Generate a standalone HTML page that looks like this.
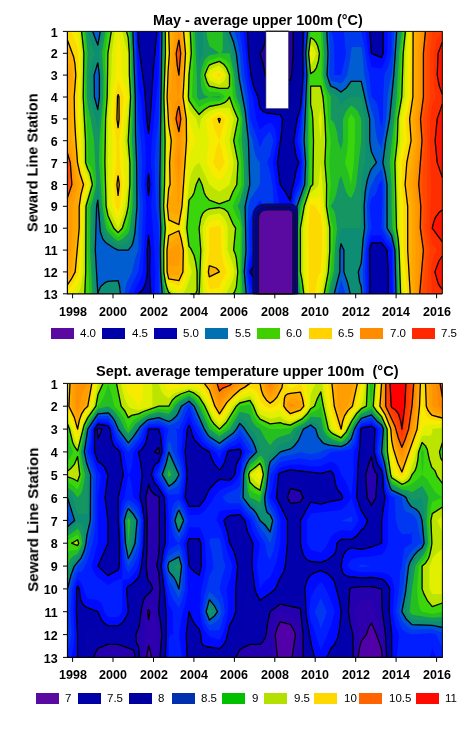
<!DOCTYPE html>
<html><head><meta charset="utf-8"><style>
html,body{margin:0;padding:0;background:#fff;}
div{-webkit-font-smoothing:antialiased;will-change:transform;}
body{width:475px;height:739px;position:relative;overflow:hidden;font-family:"Liberation Sans",sans-serif;}
svg{position:absolute;left:0;top:0;}
.t{position:absolute;font-weight:bold;font-size:14.4px;white-space:pre;line-height:1;}
.yl{position:absolute;left:20px;width:37.6px;text-align:right;font-weight:bold;font-size:12.5px;line-height:15px;}
.xl{position:absolute;width:40px;text-align:center;font-weight:bold;font-size:12.5px;line-height:15px;}
.sw{position:absolute;width:23.2px;height:11px;}
.ll{position:absolute;font-size:11.5px;line-height:13px;white-space:pre;}
.p2 .yl{}
</style></head><body>
<svg width="475" height="739" viewBox="0 0 475 739">
<g><rect x="67.4" y="31.4" width="374.90" height="262.40" fill="#2400a0"/>
<path fill="#0000a2" d="M69.1 31.4 266.7 31.4 265.7 38.7 264 46 262.4 49.6 259.9 53.3 263.3 64.2 265 75.1 270 82.4 276.8 78.9 280.2 75.1 285.2 77.1 290.3 80.6 291.6 75.1 293.2 53.3 293.2 31.4 442.3 31.4 442.3 293.8 67.4 293.8 67.4 31.4 69.1 31.4Z"/>
<path fill="#0000a4" d="M69.1 31.4 263.3 31.4 258.7 46 257.1 53.3 259.9 75.1 270 89.7 280.2 90.8 288.6 100.4 290.3 103.2 294.4 86.1 297.9 75.1 300.4 53.3 300.4 31.4 442.3 31.4 442.3 293.8 67.4 293.8 67.4 31.4 69.1 31.4Z"/>
<path fill="#0000a8" d="M69.1 31.4 259.9 31.4 258 35 256.5 39.5 254.3 53.3 256.9 75.1 258.2 79.1 259.9 83.5 270 97 280.2 101.1 283.6 104.3 287.9 111.6 290.3 118.9 294 104.3 300.4 83.3 301 75.1 301.5 31.4 442.3 31.4 442.3 293.8 67.4 293.8 67.4 31.4 69.1 31.4Z"/>
<path fill="#0000aa" d="M69.1 31.4 148.5 31.4 148.5 53.3 148.5 31.4 252.7 31.4 251.5 53.3 254 75.1 254.9 78.8 257.3 86.1 259.9 92 263.7 97 266.7 102.1 270 105.4 280.2 107.9 282.9 111.6 285.2 116 286.4 118.9 288.1 133.4 290.3 140.7 290.3 162.6 290.3 140.7 292.6 126.2 294.6 115.2 300.4 97 302 75.1 302.5 31.4 442.3 31.4 442.3 293.8 290.3 293.8 290.3 273.8 288.6 271.9 290.3 268.3 290.3 231.8 288.6 230.6 286.9 231.8 283.6 231.8 281.9 230.9 280.2 231.8 278.5 230.9 276.8 231.8 270 231.8 268.4 231.2 266.7 231.8 259.9 231.8 259.9 268.3 261.6 269.5 263.3 271.9 261.6 274.4 259.9 273.8 259.9 293.8 67.4 293.8 67.4 31.4 69.1 31.4ZM261.6 235.5 263.3 239.1 261.6 242.8 259.9 239.1 261.6 235.5ZM271.7 235.5 273.4 239.1 271.7 242.8 270 239.1 271.7 235.5ZM263.3 239.1 265 242.8 263.3 244.6 261.6 242.8 263.3 239.1ZM266.7 239.1 268.4 242.8 266.7 246.4 265 242.8 266.7 239.1ZM273.4 239.1 275.1 242.8 273.4 244.6 271.7 242.8 273.4 239.1ZM276.8 239.1 278.5 242.8 276.8 246.4 275.1 242.8 276.8 239.1ZM281.9 239.1 283.6 239.1 285.2 242.8 283.6 244.6 281.9 244.6 280.2 242.8 281.9 239.1ZM286.9 239.1 288.6 242.8 286.9 246.4 285.2 242.8 286.9 239.1ZM261.6 253.7 263.3 257.4 263.3 264.6 261.6 266.5 259.9 264.6 259.9 257.4 261.6 253.7ZM265 253.7 266.7 257.4 265 261 263.3 257.4 265 253.7ZM271.7 253.7 273.4 257.4 273.4 264.6 271.7 266.5 270 264.6 270 257.4 271.7 253.7ZM275.1 253.7 276.8 257.4 275.1 261 273.4 257.4 275.1 253.7ZM285.2 253.7 286.9 257.4 285.2 261 283.6 257.4 285.2 253.7ZM270 268.3 271.7 269.5 273.4 271.9 271.7 274.4 270 273.8 268.4 271.9 270 268.3ZM280.2 268.3 281.9 271.9 280.2 273.8 278.5 271.9 280.2 268.3ZM261.6 279.2 263.3 282.9 263.3 286.5 261.6 290.2 259.9 286.5 259.9 282.9 261.6 279.2ZM271.7 279.2 273.4 282.9 273.4 286.5 271.7 290.2 270 286.5 270 282.9 271.7 279.2ZM266.7 282.9 268.4 286.5 266.7 290.2 265 286.5 266.7 282.9ZM276.8 282.9 278.5 286.5 276.8 290.2 275.1 286.5 276.8 282.9ZM286.9 282.9 288.6 286.5 286.9 290.2 285.2 286.5 286.9 282.9Z"/>
<path fill="#000aff" d="M69.1 31.4 138.1 31.4 138.3 42.3 144.7 89.7 146.8 118.9 148.5 133.4 150.1 118.9 153.2 71.5 156.9 31.4 247.4 31.4 248.6 53.3 251 75.1 253.5 86.1 257.9 97 259.9 107.9 263.3 111.6 266.7 113 280.2 114.8 282.5 118.9 281.5 133.4 277.4 162.6 280.2 184.5 285.2 191.8 290.3 200.9 292 188.5 293.4 184.5 296.3 169.9 298.8 162.6 297.1 159 295.4 152.9 293.7 140.7 297.1 118.9 300.4 107.9 301.5 97 303 75.1 302.7 53.3 303.5 31.4 369.7 31.4 371.4 53.3 381.5 57.6 383.2 53.3 383.2 31.4 442.3 31.4 442.3 293.8 388.3 293.8 388.3 271.9 387.1 250.1 381.5 242.8 371.4 242.8 369.7 249.5 370.1 293.8 291.8 293.8 291.4 228.2 290.3 210 285.2 214.5 276.8 219.6 271.7 221.6 270 222.1 259.9 219.8 256.5 226.8 256 228.2 256.5 250.1 255.6 257.4 253.2 266.5 249.8 271.9 252.3 275.6 253.8 279.2 255.6 286.5 256.5 293.8 150.8 293.8 149.6 271.9 150.1 250.1 148.5 235.5 147.3 250.1 147.5 271.9 146.8 277.4 145.6 282.9 143.4 288.3 141.7 290.8 138.3 293.8 67.4 293.8 67.4 31.4 69.1 31.4ZM148.5 173.5 147.3 184.5 148.5 195.4 149.7 184.5 148.5 173.5Z"/>
<path fill="#001eff" d="M69.1 31.4 136.8 31.4 138.3 86.1 140.4 97 145.1 140.7 146.1 162.6 144.3 184.5 146.4 206.3 142.9 271.9 140.4 279.2 133.3 293.8 67.4 293.8 67.4 31.4 69.1 31.4ZM160.3 31.4 243.5 31.4 247.9 75.1 250.6 89.7 252.8 97 256.1 118.9 259.9 129.8 265 124.9 270 122.5 273.4 125.1 275.5 129.8 276.8 140.7 272.8 162.6 277.8 195.4 280.2 206.3 275.1 212.6 270 216.1 259.9 211.4 256 217.3 253.2 224.4 252.1 228.2 253.2 250.1 249.8 261 248.4 271.9 249.8 282.9 253.2 293.8 154.7 293.8 155.2 271.9 154.4 250.1 151.2 206.3 152.6 184.5 150.8 162.6 151.8 140.7 158.6 75.1 159.3 31.4 160.3 31.4ZM305.5 31.4 365.5 31.4 368.4 53.3 371.4 66.9 381.5 68.6 384.9 61.1 387.4 53.3 387.4 31.4 442.3 31.4 442.3 293.8 392.6 293.8 391.8 250.1 391.6 249.2 385.7 242.8 381.5 235.5 371.4 235.5 369.2 242.8 367.8 250.1 367.5 271.9 368 293.8 293.2 293.8 292.6 271.9 292.6 228.2 291.7 206.3 293.7 194.3 296 188.1 298.4 184.5 300.4 177.2 300.7 173.5 301.5 162.6 301.2 159 300.4 152.9 297.1 140.7 300.4 118.9 302.4 100.6 304 75.1 303.4 53.3 303.8 43.5 304.5 31.4 305.5 31.4Z"/>
<path fill="#003aef" d="M69.1 31.4 135.5 31.4 138.3 118.9 140.9 140.7 142.2 162.6 141.3 184.5 143.1 206.3 141.3 250.1 139 268.3 138.3 271.9 132.7 282.9 128.2 293.8 67.4 293.8 67.4 31.4 69.1 31.4ZM160.3 31.4 239.7 31.4 242.2 49.6 244.7 75.1 248.6 97 249.8 118.9 254.3 129.8 259.9 147 261.6 144.6 262.8 140.7 265 137.1 270 131.6 271.7 135 273.4 140.7 270 156.4 268.4 158.7 267.2 162.6 270 171.3 272.4 184.5 273.8 206.3 270 210 264 206.3 262.1 202.7 259.9 200.1 253.2 210.1 249.8 219.5 249.1 228.2 249.8 250.1 247 271.9 249.8 293.8 158.6 293.8 158.6 228.2 155.8 206.3 154.7 162.6 156.1 140.7 158.6 118.9 160.3 31.4ZM305.5 31.4 330.8 31.4 332.5 35 333.4 38.7 334.2 46 334.6 71.5 334.2 75.1 332.5 75.1 341 75.1 344.4 61.7 346 53.3 343.9 31.4 361.2 31.4 364.3 46 367.5 67.8 369.3 75.1 371.4 97 374.8 99.7 377.2 104.3 378.7 111.6 379.5 118.9 381.5 127.6 382.9 118.9 383.3 93.4 384.4 75.1 388.3 66.4 391.6 53.3 391.6 31.4 442.3 31.4 442.3 293.8 393.7 293.8 392.9 250.1 391.6 244.6 386.6 238.3 381.5 228.2 382.4 199 382.4 184.5 381.5 180.1 378.6 184.5 376.4 192.7 374.8 195.4 371.4 198.1 369.7 206.3 371.4 228.2 368 238.5 365.9 250.1 365.1 271.9 365.9 293.8 294.7 293.8 293.7 271.9 293.5 206.3 296 195.4 297.6 191.8 300.4 187.3 301.4 184.5 302.1 175 302.9 162.6 300.4 140.7 304.9 75.1 304.2 53.3 305.5 31.4Z"/>
<path fill="#005ed0" d="M69.1 31.4 134.2 31.4 138.3 162.6 138.3 184.5 139.7 206.3 138.3 228.2 138.3 250.1 134.9 259.2 132 271.9 126.5 283.2 124.3 293.8 67.4 293.8 67.4 31.4 69.1 31.4ZM97.8 250.1 99.5 250.1 97.8 250.1ZM162 31.4 234.6 31.4 237.6 42.3 239.7 53.3 241.6 75.1 246.2 100.6 249.8 132.5 252.8 140.7 253.7 148 255.5 155.3 257.1 159 259.9 162.6 259.9 184.5 249.8 200.1 248.4 206.3 247.4 228.2 247.9 250.1 245.7 271.9 248 293.8 160.4 293.8 159.7 271.9 159.7 228.2 159 206.3 158.6 162.6 161 31.4 162 31.4ZM307.2 31.4 328.8 31.4 330 53.3 329 75.1 330.8 80.6 341 83.5 344.4 79.8 347.3 75.1 350.6 56.9 351.1 49.6 352.8 47 361.2 47 362.4 53.3 364.3 75.1 366.3 84.9 368 97 371.4 110.7 374.4 118.9 375.4 129.8 377.5 140.7 381.5 149.5 386.2 118.9 387.9 93.4 389.7 82.4 391.6 75.1 393.5 53.3 394.2 31.4 442.3 31.4 442.3 293.8 394.9 293.8 393.9 250.1 391.6 240 388.3 235.5 384.3 228.2 384.7 184.5 381.5 169.2 376.4 175.5 371.4 184.5 369.2 191.8 367.3 202.7 366.9 206.3 368 228.2 366.1 235.5 364.6 245.5 362.7 271.9 363.8 293.8 345.6 293.8 341 280.1 337.6 293.8 296.1 293.8 294.8 271.9 295.2 206.3 297.2 199 300.4 192.1 303.1 184.5 304.3 162.6 302.3 140.7 305.9 75.1 304.9 53.3 306.5 31.4 307.2 31.4Z"/>
<path fill="#0d8d73" d="M69.1 31.4 92.7 31.4 97.8 45.1 100.3 31.4 132.9 31.4 135.3 97 135.5 133.4 136.6 162.6 137 206.3 134.9 233.2 132.9 242.8 131.3 246.4 128.2 250.1 118.1 250.1 113 247.5 106 242.8 102.9 239.1 100.3 231.8 97.8 200.1 96.6 206.3 95.3 250.1 97.8 293.8 67.4 293.8 67.4 31.4 69.1 31.4ZM97.2 64.2 94.1 75.1 94.4 97 97.8 109.5 99.4 97 99.4 75.1 97.8 62.6 97.2 64.2ZM162 31.4 229.5 31.4 232.9 40.1 236.3 53.3 239.7 81.4 244.7 107.2 248.4 140.7 249.8 184.5 245.1 206.3 246 250.1 244.3 271.9 246.2 293.8 162.2 293.8 160.6 271.9 160.3 250.1 160.8 228.2 159.9 206.3 159.8 184.5 162 31.4ZM307.2 34.4 307.5 31.4 326.8 31.4 328 53.3 327.1 75.1 330.8 86.1 335.9 88.4 341 92 346 88.3 351.1 81.4 361.2 81.4 369.7 118.9 369.7 140.7 370.7 148 371.4 151.7 376.4 162.6 371.4 168.8 369.7 172.6 367.1 180.8 365.2 191.8 364.1 206.3 364.6 228.2 363.1 239.1 361.2 263.2 358.3 271.9 359.6 281.9 361.2 286.5 361.7 293.8 350.2 293.8 347.7 282.9 343.9 271.9 343.9 250.1 341 243.8 340 250.1 339.8 271.9 334.2 293.8 297.6 293.8 295.9 271.9 296.2 220.9 297 206.3 304.7 184.5 305.6 162.6 304.1 140.7 306.9 75.1 305.7 53.3 307.2 34.4ZM396.7 31.4 442.3 31.4 442.3 293.8 396 293.8 394.9 250.1 391.6 235.5 387.1 228.2 387 184.5 385.3 173.5 382.9 162.6 385.7 140.7 389.6 118.9 393.8 75.1 396.7 31.4ZM106.2 282 107.9 281.3 118.1 280.7 119.6 286.5 120.4 293.8 97.8 293.8 98.9 290.2 100.7 286.5 102.9 284.1 106.2 282Z"/>
<path fill="#149562" d="M69.1 31.4 87.7 31.4 91 43.5 94.9 53.3 91.6 64.2 89.5 75.1 90.2 97 95.8 118.9 97.8 129.8 101.3 97 101.4 75.1 99 53.3 102.9 31.4 131.6 31.4 132.8 53.3 133 75.1 134.1 97 133.8 140.7 134.9 162.6 134.8 206.3 132.7 228.2 130.9 235.5 128.2 241.7 121.4 244.9 118.1 245.7 116.4 244.7 111.3 241.1 106.2 235.8 104.1 231.8 102.2 224.6 97.8 184.5 96.1 196 93.6 206.3 92.7 250.1 95 293.8 67.4 293.8 67.4 31.4 69.1 31.4ZM163.7 31.4 196.9 31.4 199.1 64.2 200.8 56.9 203.2 53.3 202.7 31.4 226.1 31.4 227.8 38.7 231.2 47.3 234.6 61.7 238.9 93.4 242.6 107.9 244.4 118.9 247 184.5 241.7 206.3 243 215.1 244 228.2 244.2 250.1 242.9 271.9 244.4 293.8 164 293.8 162.6 286.5 161.4 271.9 161.1 250.1 162 228.2 160.8 206.3 161.5 97 162.7 31.4 163.7 31.4ZM308.9 31.4 324.8 31.4 326 53.3 325.2 75.1 327.5 83.7 330.8 91.5 338.1 97 341 105.7 344.4 100.8 349.4 97.6 351.1 97 361.2 97 365.5 118.9 365.3 162.6 362.9 171.6 361.2 184.5 361.2 224.6 359.6 228.2 341 228.2 338.8 239.1 337.4 250.1 336.8 271.9 330.8 293.8 299 293.8 297.9 282.9 297.1 271.9 297.1 228.2 298 213.6 298.7 206.3 306.3 184.5 307 162.6 305.9 140.7 307.9 75.1 306.4 53.3 308.1 35 308.9 31.4ZM400.1 31.4 442.3 31.4 442.3 293.8 397.2 293.8 396 250.1 393.3 236 391.6 230.9 389.9 228.2 389.3 184.5 386.2 162.6 388.7 140.7 392.4 118.9 396 75.1 398.1 42.3 399.2 31.4 400.1 31.4ZM351.1 268.3 351.1 271.9 351.1 268.3Z"/>
<path fill="#26bf21" d="M69.1 31.4 85.6 31.4 87.3 49.6 87.7 53.3 86.7 75.1 86.9 97 87.7 105.7 90.7 118.9 94 140.7 95.9 177.2 96 184.5 95.4 188.1 93.1 199 90.6 206.3 90.2 250.1 92.2 293.8 67.4 293.8 67.4 31.4 69.1 31.4ZM106.2 31.4 130.3 31.4 131.6 51.9 131.8 75.1 132.9 97 131.9 140.7 133.3 162.6 132.6 206.3 129.9 228.2 128.2 233.2 123.1 238.6 118.1 241.3 113 237.4 107.9 231.8 106 228.2 105.1 224.6 102.3 206.3 99 162.6 99.5 140.7 103.3 97 103.5 75.1 102 53.3 105.4 31.4 106.2 31.4ZM163.7 31.4 194.7 31.4 196.8 75.1 197.1 97 199.1 99.9 209.3 97 219.4 97.7 220.3 97 219.4 96.2 209.3 97 207.6 96.6 204.2 94.7 202.5 92.1 201.1 86.1 200.4 75.1 201.7 67.8 204.3 60.6 205.9 58.3 209.3 55.3 219.4 53.3 229.5 53.3 233.6 71.5 236.3 97 239.7 105.4 242.5 118.9 241.7 140.7 243.7 162.6 244.2 184.5 239.7 202 237.6 206.3 239.7 210.7 240.3 213.6 242.4 228.2 241.6 271.9 242.5 293.8 165.8 293.8 165.3 292.4 163.7 285.1 162.2 271.9 162 250.1 163.1 228.2 161.7 206.3 162.7 140.7 162.3 97 163.6 53.3 163.7 31.4ZM207.6 31.4 222.8 31.4 222.8 49.6 221.1 53.3 219.4 53.3 209.3 46 207.6 39.5 206.4 31.4 207.6 31.4ZM310.6 31.4 322.7 31.4 324 53.3 323.3 75.1 324.8 82.4 327 89.7 330.8 97 330.8 118.9 333.8 122.5 335.4 126.2 337.2 133.4 338.1 140.7 341 149.5 343 140.7 343 118.9 346 111.6 348.6 107.9 351.1 105.4 354.9 107.9 357.9 111.3 361.2 118.9 361.2 140.7 356.2 184.5 354.3 191.8 351.1 198.1 348.2 195.4 346 191.8 341 175.7 338.9 180.8 336.8 191.8 334.7 199 330.8 206.3 333.7 210 335.1 213.6 337.1 228.2 335.1 246.4 333.8 271.9 330.8 282.9 328.6 293.8 300.4 293.8 298.2 271.9 298.2 228.2 299.5 213.6 300.4 206.3 308 184.5 308.4 162.6 307.7 140.7 308.8 75.1 307.2 53.3 309.6 31.4 310.6 31.4ZM401.8 31.4 442.3 31.4 442.3 293.8 398.3 293.8 397 250.1 395 236.9 392.4 228.2 391.6 206.3 391.6 184.5 389.6 162.6 396.7 97 399.1 53.3 401.8 31.4Z"/>
<path fill="#3ad50b" d="M69.1 31.4 83.6 31.4 85.8 53.3 85 75.1 85 97 86.7 118.9 87.7 140.7 87.7 162.6 90.6 166.2 92 169.9 93.5 177.2 94.2 184.5 91 197.7 87.7 206.3 87.7 250.1 89.4 293.8 67.4 293.8 67.4 31.4 69.1 31.4ZM107.9 31.4 129 31.4 130.5 53.3 130.6 75.1 131.7 97 130.1 140.7 131.6 162.6 131.6 184.5 130.4 206.3 128.2 222 126.5 228.2 123.1 232.8 118.1 236.9 111.3 230.4 109.6 228.2 107.9 224.6 106 217.3 104.2 206.3 102.9 184.5 102 162.6 102.3 140.7 103.3 118.9 105.2 97 105.5 75.1 104.9 53.3 107.9 31.4ZM165.3 31.4 192.5 31.4 193.6 53.3 192 97 199.1 107.2 203.5 104.3 209.3 101.8 219.4 101.1 222.8 99.1 224.9 97 222.8 94.3 219.4 92.3 209.3 91.5 205.9 87.5 204 82.4 202.6 75.1 204.7 67.8 207.6 62.3 209.3 60.2 219.4 57.3 222.8 58.4 226.1 60.2 229.5 64.2 231.8 75.1 232.9 97 239.7 113.8 240.7 118.9 239.7 132 238 140.7 239.7 149.5 241.2 162.6 241.3 184.5 239.7 191 235.5 199 232.6 206.3 236.3 216 239.7 221.6 240.7 228.2 240.2 271.9 240.7 293.8 167.6 293.8 166.2 290.2 164.4 282.9 163 271.9 162.8 250.1 164.2 228.2 162.6 206.3 163.9 140.7 163.1 97 164.5 53.3 164.4 31.4 165.3 31.4ZM310.6 31.4 320.7 31.4 321.9 53.3 321.5 75.1 324.1 89.5 326.9 97 328.2 122.5 330.8 140.7 329.2 162.6 330.8 184.5 328.6 206.3 330.8 220 333.2 228.2 332.4 250.1 330.8 271.9 326.4 293.8 302.1 293.8 299.3 271.9 299.3 228.2 300.4 217.3 302.3 206.3 309.6 184.5 309.3 97 309.8 75.1 307.9 53.3 310.6 31.4ZM403.5 32.6 403.6 31.4 442.3 31.4 442.3 293.8 399.5 293.8 398 250.1 396.7 238.2 394.5 228.2 393.7 184.5 392.6 162.6 396.1 118.9 399.2 97 401 53.3 403.5 32.6ZM351.1 113.8 354.9 118.9 354.9 140.7 353.9 162.6 351.1 184.5 348.6 173.5 345 162.6 347.1 151.7 348.1 140.7 348.1 118.9 351.1 113.8Z"/>
<path fill="#bbe500" d="M69.1 31.4 81.6 31.4 83.9 53.3 83.2 97 85.5 140.7 85.6 162.6 87.7 168.7 90 173.5 92.4 184.5 86 206.3 85.7 271.9 84.8 293.8 67.4 293.8 67.4 31.4 69.1 31.4ZM111.3 31.4 126.5 31.4 128.2 37.6 129.3 53.3 129.4 75.1 130.6 97 128.2 140.7 129.9 162.6 129.7 188.1 128.2 206.3 125.8 217.3 122.3 228.2 118.1 232.6 113.8 228.2 110.4 220.9 107.9 215.4 106.1 206.3 104.9 162.6 105.6 118.9 107.2 97 107.9 53.3 111.3 31.4ZM165.3 31.4 190.3 31.4 191.3 53.3 189 75.1 188.4 97 189 100.6 196.6 111.6 199.1 114.5 204.2 109.7 209.3 106.5 220.3 104.3 224.5 102.7 227.2 100.6 229.5 97 233.3 107.9 238 118.9 233.7 140.7 238 162.6 236.8 184.5 232.9 191.8 229.5 200.1 219.4 203.9 209.3 200.1 205.9 196.1 204.2 192.7 202 184.5 199.1 178.2 196.2 184.5 194.1 192.7 192.4 196.1 189 200.1 186.8 228.2 189 246.4 190.7 248.4 194.1 255.5 196.7 268.3 197.1 290.2 195.7 293.8 170.8 293.8 168.7 292.4 165.6 282.9 163.8 271.9 163.7 250.1 165.3 228.2 163.6 206.3 164.5 184.5 165.1 140.7 163.9 97 165.4 53.3 165.3 31.4ZM405.1 34.5 405.4 31.4 442.3 31.4 442.3 293.8 400.6 293.8 399.1 250.1 398.2 239.1 396.5 228.2 394.9 162.6 397.3 140.7 398 118.9 401.8 97 403.2 53.3 405.1 34.5ZM310.6 37.5 314 39.8 316 42.3 317.7 46 319.4 53.3 318.5 60.6 316.4 67.8 314 71.4 310.6 73.6 308.6 53.3 310.6 37.5ZM212.6 63.7 219.4 61.4 223.6 64.2 226.5 67.8 229.5 75.1 229.5 86.1 227.8 88.4 219.4 88.4 209.3 86.1 207.1 82.4 204.8 75.1 207.6 68 209.3 65.2 212.6 63.7ZM310.6 86.1 320.7 86.1 323 97 324.9 118.9 325.8 140.7 324.9 162.6 326.6 184.5 326.4 206.3 329.8 228.2 329.8 250.1 328.3 271.9 324.2 293.8 303.8 293.8 302.1 280.4 300.4 271.9 300.4 228.2 304.2 206.3 310.6 186.8 312.8 184.5 313.5 140.7 312.8 118.9 312.1 111.6 310.6 104.3 310.6 86.1ZM207.6 209.6 209.3 208.9 219.4 207.5 225.8 210 228.9 213.6 231.5 220.9 235.6 228.2 233.6 250.1 235.2 253.7 236.3 258 237.8 271.9 236.3 287.2 234.6 291.8 232.9 293.8 197.4 293.8 199.1 293.8 200.8 250.1 199.1 228.2 199.5 224.6 200.8 218 202.5 213.9 204.2 211.8 207.6 209.6Z"/>
<path fill="#e1ef00" d="M69.1 31.4 79.6 31.4 82 53.3 81.3 97 83.3 140.7 83.6 162.6 89.4 179.4 90.6 184.5 84.3 206.3 83.3 271.9 81 286.5 79.7 290.2 77.5 293.8 67.4 293.8 67.4 31.4 69.1 31.4ZM114.7 31.4 122.3 31.4 124.8 43 128.2 53.3 128.2 75.1 129.4 97 125.2 140.7 128.2 162.6 128.2 184.5 125.4 206.3 122.5 217.3 118.1 228.2 107.9 206.3 107.9 118.9 111.3 75.1 111.8 53.3 114.7 31.4ZM167 31.4 188.4 31.4 189 53.3 187.1 97 189 109.8 196.2 118.9 199.1 129.8 201.1 118.9 204.4 115.2 208.8 111.6 214.3 109.3 219.4 107.9 229.5 107.9 233.7 118.9 229.5 140.7 233.7 162.6 232.2 173.5 229.5 184.5 224.5 188.6 219.4 191.8 214.3 188.6 209.3 184.5 199.1 162.6 195.7 165.3 194.1 167.5 191.2 173.5 189 184.5 184.6 228.2 187 242.8 189 262.6 192 271.9 187 286.5 185.3 290.2 182.7 293.8 175.8 293.8 168.7 289 166.7 282.9 164.6 271.9 164.5 250.1 166.5 228.2 164.5 206.3 165.7 184.5 166.3 140.7 164.7 97 166.3 53.3 166.1 31.4 167 31.4ZM408.5 31.4 442.3 31.4 442.3 293.8 401.8 293.8 399.8 242.8 398.5 228.2 397.2 162.6 400.1 140.7 399.9 118.9 401.8 107.9 404.6 97 405.6 53.3 407.2 31.4 408.5 31.4ZM310.6 43.5 314 48.2 316 53.3 313.7 60.6 310.6 65.8 309.4 53.3 310.6 43.5ZM214.3 67.5 219.4 65.4 222.8 68.6 226.5 75.1 224.5 80.6 222.8 82.6 219.4 84.5 209.3 80.6 207.1 75.1 209.3 70.2 214.3 67.5ZM320.7 107.9 321.9 118.9 320.7 140.7 318.5 118.9 320.7 107.9ZM320.7 162.6 324.2 206.3 327.3 228.2 327.3 250.1 325.8 271.9 322 293.8 305.5 293.8 303.1 271.9 303.1 228.2 306.1 206.3 310.6 192.5 315.6 188.8 318.5 184.5 320.7 162.6ZM207.6 217 209.3 215.3 219.4 213.6 222.8 216.5 224.5 218.7 226.1 222 227.8 227.2 227.6 250.1 232.9 264 234.6 271.9 233 279.2 231.7 282.9 226.1 293.8 203 293.8 202.1 271.9 203.6 250.1 202.5 228.2 205 220.9 207.6 217Z"/>
<path fill="#f7eb00" d="M69.1 31.4 77.5 31.4 80.2 53.3 79.4 97 81.6 162.6 84.3 172.1 88.8 184.5 85.1 195.4 82.6 206.3 82.6 228.2 80.9 271.9 79.4 279.2 77.5 284.7 71.2 293.8 67.4 293.8 67.4 31.4 69.1 31.4ZM118.1 31.4 119.8 43.3 121.9 53.3 121.9 75.1 125.5 86.1 128.2 97 125.3 111.6 122.2 140.7 125.2 184.5 122.6 206.3 118.1 219.8 111.8 206.3 110.9 184.5 112.2 162.6 112.2 140.7 110.9 118.9 112.6 93.4 115.5 75.1 115.7 53.3 118.1 31.4ZM167 31.4 186.8 31.4 187.8 53.3 185.7 97 189 118.9 195.3 140.7 192.4 149.2 189 154.4 188.1 162.6 187.2 184.5 184.4 213.6 182.4 228.2 184.7 239.1 186.3 250.1 188 271.9 184.6 282.9 182.2 287.4 178.9 291.6 173.8 287.9 168.7 285.6 165.5 271.9 165.3 250.1 167.6 228.2 165.4 206.3 166.8 184.5 167.5 140.7 165.5 97 167.3 53.3 167 31.4ZM410.2 31.4 442.3 31.4 442.3 293.8 404.6 293.8 401.8 266.5 400.6 228.2 399.5 162.6 401.8 147 403.3 140.7 401.8 118.9 405 107.9 407.4 97 408 53.3 409 31.4 410.2 31.4ZM310.6 49.6 312.6 53.3 310.6 58 310.1 53.3 310.6 49.6ZM216 71.1 219.4 69.5 223.6 75.1 221.3 78.8 219.4 80.6 214.3 78.3 209.3 75.1 216 71.1ZM219.4 111.4 222.8 112.4 226.1 114.2 227.8 115.9 229.5 118.9 224.5 140.7 229.5 162.6 227.8 168.5 225.6 173.5 222.8 177.7 219.4 180.8 215 177.2 212 173.5 206.4 162.6 207.6 148.9 209.3 140.7 207.4 133.4 206.2 118.9 210.9 115 219.4 111.4ZM310.6 198.3 317.3 197.2 320.7 195.4 324.8 228.2 324.8 250.1 323.2 271.9 320.7 287.6 319 293.8 307.2 293.8 305.8 271.9 305.8 228.2 308 206.3 310.6 198.3ZM214.3 220.7 219.4 219.7 222.8 224.5 224.5 228.2 224.5 250.1 226.1 257.4 231.4 271.9 229.5 277.4 224.6 286.5 221.9 293.8 206.9 293.8 205.1 282.9 204.2 271.9 206.4 250.1 205.9 228.2 209.3 221.8 214.3 220.7Z"/>
<path fill="#fcd900" d="M69.1 31.4 71.2 31.4 77.5 47 78.3 53.3 77.5 118.9 79.6 162.6 82.6 174.3 86.5 184.5 82.9 195.4 80.9 206.3 80.9 228.2 78.5 271.9 77.5 275.6 74.2 282.1 67.4 291.2 67.4 31.4 69.1 31.4ZM168.7 31.4 185.2 31.4 186.6 53.3 184.3 97 187.6 118.9 189 140.7 186.8 159 183.6 206.3 180.2 228.2 182.9 239.1 184.8 250.1 185.4 271.9 182.9 279.2 178.9 286.1 173.8 283.7 168.7 282.2 166.3 271.9 166.2 250.1 168.7 228.2 166.3 206.3 168 184.5 168 162.6 168.7 140.7 166.3 97 168.2 53.3 167.9 31.4 168.7 31.4ZM411.9 31.4 442.3 31.4 442.3 293.8 407.4 293.8 403.5 250.1 403.5 206.3 401.8 184.5 401.8 162.6 407.2 140.7 405.7 118.9 408.3 107.9 410.2 97 410.8 31.4 411.9 31.4ZM217.7 74.4 219.4 73.5 220.6 75.1 219.4 76.7 216.5 75.1 217.7 74.4ZM118.1 80.6 123.6 97 121.8 118.9 119.3 140.7 119.8 162.6 122.2 184.5 119.8 206.3 118.1 211.4 115.7 206.3 113.9 184.5 116.4 162.6 116.4 155.3 116.4 140.7 113.9 118.9 114.9 97 118.1 80.6ZM219.4 114.8 222.8 116.8 224.9 118.9 219.4 140.7 214.7 129.8 211.8 118.9 219.4 114.8ZM219.4 140.7 224.5 162.6 222.8 166.4 219.4 171.7 216 167.5 213.1 162.6 216 149.8 219.4 140.7ZM310.6 204 315.6 206.3 317.3 210 320.7 215.1 322.2 228.2 322.2 250.1 320.7 271.9 318.5 275.6 317.2 279.2 314.8 293.8 308.9 293.8 308.4 228.2 309.8 206.3 310.6 204ZM210.9 227.8 219.4 225.8 220.8 228.2 221.7 253.7 223.8 264.6 226.6 271.9 222.8 278.7 219.4 287.6 209.3 288.9 206.3 271.9 209.3 250.1 209.3 228.2 210.9 227.8Z"/>
<path fill="#ffaf00" d="M170.4 31.4 183.6 31.4 185.5 53.3 183 97 186.3 118.9 186.5 140.7 182 206.3 178.9 224.6 168.7 219.8 167.3 206.3 168.7 188.8 170.1 184.5 169.6 162.6 171.3 140.7 168.7 125.1 167.1 97 168.1 71.5 169.4 53.3 168.7 31.4 170.4 31.4ZM413.6 31.4 442.3 31.4 442.3 293.8 410.2 293.8 407.7 250.1 407.7 206.3 405.1 184.5 406.8 162.6 411.1 140.7 409.6 118.9 412.9 97 413.1 31.4 413.6 31.4ZM68.1 42.3 73.7 56.9 75 64.2 75.8 75.1 74.2 97 74.6 118.9 75.6 137.1 77.5 162.6 79.9 173.5 83.5 184.5 80.9 194.6 79.2 206.3 79.2 228.2 75.2 271.9 71.3 279.2 67.4 284.8 67.4 40.1 68.1 42.3ZM118.1 94.3 119 97 119.1 118.9 118.1 127.6 116.9 118.9 117.5 97 118.1 94.3ZM219.4 118.2 220.3 118.9 219.4 122.5 218.1 118.9 219.4 118.2ZM118.1 175.7 119.3 184.5 118.1 195.4 116.9 184.5 118.1 175.7ZM177.2 231.5 178.9 230.8 181.2 239.1 183.3 250.1 182.9 271.9 178.9 280.7 168.7 278.8 167.1 271.9 167 250.1 168.7 235.5 177.2 231.5ZM209.3 265.7 216 268 217.7 269.4 219.4 271.9 209.3 276.8 208.4 271.9 209.3 265.7Z"/>
<path fill="#ffa500" d="M172.1 31.4 182 31.4 184.3 53.3 181.6 97 184.9 118.9 183.5 162.6 180.4 206.3 178.9 215.4 168.7 211.4 168.2 206.3 168.7 199.8 170.4 197 172.1 192.2 173.5 184.5 171.9 162.6 173.8 140.7 168.7 110.7 167.9 97 168.7 75.1 170.6 60.6 172.1 31.4ZM417 31.4 442.3 31.4 442.3 293.8 412.8 293.8 411.9 271.9 411.9 206.3 408.5 184.5 411.9 162.6 414 140.7 412.9 118.9 415.4 97 415.4 53.3 416.1 31.4 417 31.4ZM67.4 56.9 70.8 64.2 73 75.1 70.8 97 71.6 118.9 71.6 140.7 74.2 149.7 77.5 173.5 80.5 184.5 78.6 195.4 77.5 206.3 77.5 228.2 75.5 239.1 71.3 271.9 67.4 278.4 67.4 56.9ZM175.5 238.9 178.9 237.2 181.8 250.1 180.4 271.9 178.9 275.2 168.7 275.4 167.9 271.9 167.9 250.1 168.7 242.8 175.5 238.9Z"/>
<path fill="#ff9b00" d="M175.5 31.4 180.4 31.4 183.1 53.3 180.2 97 183.5 118.9 181.4 140.7 181.9 162.6 179.9 184.5 178.9 206.3 177.6 202.7 177.3 199 176.8 184.5 174.3 162.6 176.3 140.7 172 118.9 171 104.3 170.3 100.6 168.7 97 170.4 91.5 171.3 86.1 173 49.6 174.1 38.7 175.5 31.4ZM420.3 31.4 442.3 31.4 442.3 293.8 415.1 293.8 415.1 271.9 415.8 250.1 414.7 228.2 414.9 206.3 411.9 184.5 414.7 162.6 416.7 140.7 415.4 118.9 418 97 418 53.3 419.1 31.4 420.3 31.4ZM68.1 67.8 70.2 75.1 67.4 97 67.4 66 68.1 67.8ZM67.6 100.6 68.6 118.9 67.4 140.7 67.4 97 67.6 100.6ZM69.1 143.6 72.5 153.9 75.3 173.5 77.5 184.5 75.7 195.4 72.5 206.3 72.5 228.2 70.8 250.1 67.4 271.9 67.4 140.7 69.1 143.6ZM175.5 245.6 178.9 243.6 180.3 250.1 178.9 265.7 170.4 265.7 168.7 264.6 168.7 250.1 175.5 245.6Z"/>
<path fill="#ff9100" d="M178.9 31.4 181.9 53.3 178.9 97 177.2 91.5 176.3 86.1 174.5 53.3 176.7 38.7 178.9 31.4ZM422 31.4 442.3 31.4 442.3 293.8 417.4 293.8 419.7 250.1 417.5 228.2 417.9 206.3 415.3 184.5 419.4 140.7 418 118.9 420.5 97 420.5 53.3 422 31.4ZM177.2 99.1 178.9 97 182.1 118.9 180.5 132.8 178.9 140.7 174 118.9 175.4 104.3 177.2 99.1ZM178.9 140.7 180.4 162.6 178.9 178.2 176.6 162.6 178.9 140.7ZM68 148 70.5 155.3 72.1 162.6 74.7 184.5 72.1 195.4 67.4 206.3 67.4 213.6 67.4 146.8 68 148ZM67.4 231.8 67.4 235.5 67.4 228.2 67.4 231.8Z"/>
<path fill="#ff5400" d="M425.4 31.4 442.3 31.4 442.3 293.8 419.7 293.8 423.4 250.1 420.3 228.2 420.8 206.3 418.7 184.5 422 140.7 420.5 118.9 423.4 97 423.4 53.3 425.4 31.4ZM178.9 39.8 180.7 53.3 178.9 75.1 177.2 65.2 176.2 53.3 178.9 39.8ZM178.9 106.1 180.8 118.9 178.9 131.6 176 118.9 177.2 111.6 178.9 106.1ZM68.3 155.3 70.3 162.6 71.9 184.5 67.4 197.9 67.4 152.9 68.3 155.3Z"/>
<path fill="#ff4700" d="M428.8 31.4 442.3 31.4 442.3 293.8 422 293.8 423.6 282.9 426.8 250.1 423.2 228.2 423.9 206.3 422 184.5 424.8 140.7 423.4 118.9 426.8 97 426.8 53.3 428.8 31.4ZM178.9 48.2 179.6 53.3 178.9 61.5 177.8 53.3 178.9 48.2ZM178.9 115.2 179.4 118.9 178.9 122.5 178 118.9 178.9 115.2ZM67.4 159 68.5 162.6 69.1 184.5 67.4 189.5 67.4 159Z"/>
<path fill="#ff3b00" d="M432.2 31.4 442.3 31.4 442.3 293.8 427.1 293.8 427.7 271.9 430.1 250.1 426.2 228.2 427.1 206.3 426.8 162.6 427.7 140.7 426.8 118.9 430.1 97 430.1 53.3 432.2 31.4Z"/>
<path fill="#ff2e00" d="M440.6 33.5 442.3 31.4 442.3 293.8 432.2 293.8 430.9 271.9 431.7 264.6 433.2 257.4 434.8 253.7 437.2 250.1 432.2 243.8 429.2 228.2 431.2 184.5 430.1 162.6 430.1 118.9 432.2 105.7 435.5 97 434.5 89.7 433.6 75.1 433.9 53.3 436.3 42.3 437.7 38.7 440.6 33.5Z"/>
<path fill="#ff1200" d="M440.6 45.8 442.3 42.3 442.3 94.3 439.3 86.1 437.2 75.1 438.1 53.3 440.6 45.8ZM442.3 104.3 442.3 177.2 437.2 162.6 435.1 140.7 437.2 118.9 442.3 104.3ZM438.9 212.6 442.3 210 442.3 241.9 432.2 228.2 433.9 221.4 435.5 217.3 438.9 212.6ZM442.3 256 442.3 289.4 439.9 286.5 438 282.9 434.9 271.9 438.9 261 442.3 256Z"/>
<path fill="none" stroke="#000" stroke-width="1.3" stroke-linejoin="round" d="M266.7 31.4 265.7 38.7 264 46 262.4 49.6 259.9 53.3 263.3 64.2 265 75.1 270 82.4 276.8 78.9 280.2 75.1 285.2 77.1 290.3 80.6 291.6 75.1 293.2 53.3 293.2 31.4M138.1 31.4 138.3 42.3 144.7 89.7 146.8 118.9 148.5 133.4 150.1 118.9 153.2 71.5 156.9 31.4M247.4 31.4 248.6 53.3 251 75.1 253.5 86.1 257.9 97 259.9 107.9 263.3 111.6 266.7 113 280.2 114.8 282.5 118.9 281.5 133.4 277.4 162.6 280.2 184.5 285.2 191.8 290.3 200.9 292 188.5 293.4 184.5 296.3 169.9 298.8 162.6 297.1 159 295.4 152.9 293.7 140.7 297.1 118.9 300.4 107.9 301.5 97 303 75.1 302.7 53.3 303.5 31.4M369.7 31.4 371.4 53.3 381.5 57.6 383.2 53.3 383.2 31.4M150.8 293.8 149.6 271.9 150.1 250.1 148.5 235.5 147.3 250.1 147.5 271.9 146.8 277.4 145.6 282.9 143.4 288.3 141.7 290.8 138.3 293.8M291.8 293.8 291.4 228.2 290.3 210 285.2 214.5 276.8 219.6 271.7 221.6 270 222.1 259.9 219.8 256.5 226.8 256 228.2 256.5 250.1 255.6 257.4 253.2 266.5 249.8 271.9 252.3 275.6 253.8 279.2 255.6 286.5 256.5 293.8M388.3 293.8 388.3 271.9 387.1 250.1 381.5 242.8 371.4 242.8 369.7 249.5 370.1 293.8M148.5 173.5 147.3 184.5 148.5 195.4 149.7 184.5 148.5 173.5M92.7 31.4 97.8 45.1 100.3 31.4M132.9 31.4 135.3 97 135.5 133.4 136.6 162.6 137 206.3 134.9 233.2 132.9 242.8 131.3 246.4 128.2 250.1 118.1 250.1 113 247.5 106 242.8 102.9 239.1 100.3 231.8 97.8 200.1 96.6 206.3 95.3 250.1 97.8 293.8M229.5 31.4 233.6 42.3 236.3 53.3 239.2 78.8 245.3 111.6 248.4 140.7 249.8 184.5 245.1 206.3 246 250.1 244.3 271.9 246.2 293.8M326.8 31.4 328 53.3 327.1 75.1 329.3 82.4 330.8 86.1 335.9 88.4 341 92 346 88.3 351.1 81.4 361.2 81.4 369.7 118.9 369.7 140.7 370.7 148 371.4 151.7 376.4 162.6 371.4 168.8 369.7 172.6 367.1 180.8 365.2 191.8 364.1 206.3 364.6 228.2 363.1 239.1 361.2 263.2 358.3 271.9 359.6 281.9 361.2 286.5 361.7 293.8M97.8 293.8 98.9 290.2 100.7 286.5 104.6 282.9 107.9 281.3 118.1 280.7 119.6 286.5 120.4 293.8M162.2 293.8 160.6 271.9 160.3 250.1 160.8 228.2 159.9 206.3 159.8 184.5 161.9 31.4M297.6 293.8 295.9 271.9 296.2 220.9 297 206.3 304.7 184.5 305.6 162.6 304.1 140.7 306.9 75.1 305.7 53.3 307.5 31.4M350.2 293.8 347.7 282.9 343.9 271.9 343.9 250.1 341 243.8 340 250.1 339.8 271.9 334.2 293.8M396 293.8 394.9 250.1 391.6 235.5 387.1 228.2 387 184.5 385.3 173.5 382.9 162.6 385.7 140.7 389.6 118.9 393.8 75.1 396.7 31.4M97.8 62.6 94.1 75.1 94.4 97 97.8 109.5 99.4 97 99.4 75.1 97.8 62.6M81.6 31.4 83.9 53.3 83.2 97 85.5 140.7 85.6 162.6 87.7 168.7 90 173.5 92.4 184.5 86 206.3 85.7 271.9 84.8 293.8M126.5 31.4 128.2 37.6 129.3 53.3 129.4 75.1 130.6 97 128.2 140.7 129.9 162.6 129.9 184.5 128.2 206.3 126.5 214.5 122.3 228.2 118.1 232.6 113.8 228.2 110.4 220.9 107.9 215.4 106.1 206.3 104.9 162.6 105.6 118.9 107.2 97 107.9 53.3 111.3 31.4M190.3 31.4 191.3 53.3 189 75.1 188.4 97 189 100.6 193.8 107.9 199.1 114.5 204.2 109.7 209.3 106.5 220.3 104.3 224.5 102.7 227.2 100.6 229.5 97 233.3 107.9 238 118.9 233.7 140.7 238 162.6 236.8 184.5 232.9 191.8 229.5 200.1 219.4 203.9 209.3 200.1 205.9 196.1 204.2 192.7 202 184.5 199.1 178.2 196.2 184.5 194.1 192.7 192.4 196.1 189 200.1 186.8 228.2 189 246.4 190.7 248.4 194.1 255.5 195.7 262.2 197.1 271.9 197.1 290.2 195.7 293.8 190.3 293.8M170.8 293.8 168.7 292.4 167 288.3 165.3 281.8 163.8 271.9 163.7 250.1 165.3 228.2 163.6 206.3 164.5 184.5 165.1 140.7 163.9 97 165.4 53.3 165.3 31.4M197.4 293.8 199.1 293.8 199.5 286.5 200.8 250.1 199.1 228.2 200.8 218 202.7 213.6 204.2 211.8 206.7 210 209.3 208.9 219.4 207.5 224.5 209.2 227.8 211.9 232.9 223.8 235.6 228.2 233.6 250.1 235.2 253.7 236.3 258 237.8 271.9 236.3 287.2 234.6 291.8 232.9 293.8M303.8 293.8 302.1 280.4 300.4 271.9 300.4 228.2 304.2 206.3 310.6 186.8 312.8 184.5 313.5 140.7 312.8 118.9 312.1 111.6 310.6 104.3 310.6 86.1 320.7 86.1 323 97 324.9 118.9 325.8 140.7 324.9 162.6 326.6 184.5 326.4 206.3 329.8 228.2 329.8 250.1 328.3 271.9 324.2 293.8M400.6 293.8 399.1 250.1 398.2 239.1 396.5 228.2 394.9 162.6 397.3 140.7 398 118.9 401.8 97 403.2 53.3 405.4 31.4M310.6 37.5 314 39.8 316 42.3 317.7 46 319.4 53.3 318.5 60.6 316.4 67.8 314 71.4 310.6 73.6 308.6 53.3 310.6 37.5M212.6 63.7 219.4 61.4 223.6 64.2 226.5 67.8 229.5 75.1 229.5 86.1 227.8 88.4 219.4 88.4 209.3 86.1 207.1 82.4 204.8 75.1 207.6 68 209.3 65.2 212.6 63.7M183.6 31.4 185.5 53.3 183 97 186.3 118.9 186.5 140.7 182 206.3 178.9 224.6 168.7 219.8 167.3 206.3 168.7 188.8 170.1 184.5 169.6 162.6 171.3 140.7 168.7 125.1 167.1 97 168.1 71.5 169.4 53.3 168.7 31.4M67.4 40.1 73.7 56.9 75 64.2 75.8 75.1 74.2 97 74.6 118.9 75.6 137.1 77.5 162.6 79.9 173.5 83.5 184.5 80.9 194.6 79.2 206.3 79.2 228.2 75.2 271.9 71.3 279.2 67.4 284.8M410.2 293.8 407.7 250.1 407.7 206.3 405.1 184.5 406.8 162.6 411.1 140.7 409.6 118.9 412.9 97 413.1 31.4M118.1 94.3 119 97 119.1 118.9 118.1 127.6 116.9 118.9 117.5 97 118.1 94.3M219.4 118.2 220.3 118.9 219.4 122.5 218.1 118.9 219.4 118.2M118.1 175.7 119.3 184.5 118.1 195.4 116.9 184.5 118.1 175.7M177.2 231.5 178.9 230.8 181.2 239.1 183.3 250.1 182.9 271.9 178.9 280.7 168.7 278.8 167.1 271.9 167 250.1 168.7 235.5 177.2 231.5M209.3 265.7 216 268 217.7 269.4 219.4 271.9 209.3 276.8 208.4 271.9 209.3 265.7M67.4 152.9 70.3 162.6 71.9 184.5 67.4 197.9M419.7 293.8 423.4 250.1 420.3 228.2 420.8 206.3 418.7 184.5 422 140.7 420.5 118.9 423.4 97 423.4 53.3 425.4 31.4M178.9 39.8 180.7 53.3 178.9 75.1 177.2 65.2 176.2 53.3 178.9 39.8M178.9 106.1 180.8 118.9 178.9 131.6 176 118.9 177.2 111.6 178.9 106.1M442.3 94.3 439.3 86.1 437.2 75.1 438.1 53.3 442.3 42.3M442.3 177.2 437.2 162.6 435.1 140.7 437.2 118.9 442.3 104.3M442.3 241.9 432.2 228.2 433.9 221.4 435.5 217.3 438.9 212.6 442.3 210M442.3 289.4 439.9 286.5 438 282.9 434.9 271.9 438.9 261 442.3 256"/></g>
<path fill="#0000b4" stroke="#111" stroke-width="1" d="M253 293.8V217Q253 204 266 204H289.5Q297.5 204 297.5 212V293.8Z"/><path fill="#0000a0" stroke="#111" stroke-width="1" d="M255.8 293.8V218Q255.8 207 266.8 207H289.2Q295.2 207 295.2 213V293.8Z"/><path fill="#5a0aa0" stroke="#111" stroke-width="1" d="M258.6 293.8V219Q258.6 210 267.6 210H288.8Q292.8 210 292.8 214V293.8Z"/><rect x="265.9" y="30.9" width="22.7" height="77.8" fill="#fff" stroke="#333" stroke-width="0.6"/>
<path fill="none" stroke="#111" stroke-width="1" d="M67.4 31.4H442.3V293.8"/>
<path fill="none" stroke="#000" stroke-width="1.2" d="M67.4 31.4V293.8H442.3"/>
<path fill="none" stroke="#000" stroke-width="1" d="M62.9 31.4H67.4M62.9 53.3H67.4M62.9 75.1H67.4M62.9 97.0H67.4M62.9 118.9H67.4M62.9 140.7H67.4M62.9 162.6H67.4M62.9 184.5H67.4M62.9 206.3H67.4M62.9 228.2H67.4M62.9 250.1H67.4M62.9 271.9H67.4M62.9 293.8H67.4M72.6 293.8V298.3M113.0 293.8V298.3M153.5 293.8V298.3M193.9 293.8V298.3M234.4 293.8V298.3M274.8 293.8V298.3M315.2 293.8V298.3M355.7 293.8V298.3M396.1 293.8V298.3M436.6 293.8V298.3"/>
<g><rect x="67.5" y="383.4" width="374.90" height="274.00" fill="#5101a7"/>
<path fill="#2e00ad" d="M69.2 383.4 442.4 383.4 442.4 657.4 382.2 657.4 381.6 649.8 379.9 644.2 376.5 634.6 371.5 623.1 368.9 627 366.4 634.6 361.3 641.1 359.7 647 358 657.4 292.1 657.4 295.5 634.6 293.8 630 290.4 624.4 280.3 621.9 277.6 627 275.2 634.6 277.4 657.4 151.5 657.4 150.2 650.3 148.6 646 146.5 657.4 67.5 657.4 67.5 383.4 69.2 383.4ZM147.6 611.7 148.6 619.3 149.8 611.7 148.6 609.5 147.6 611.7Z"/>
<path fill="#2400af" d="M69.2 383.4 442.4 383.4 442.4 657.4 384.5 657.4 382.8 634.6 381.6 626 375.3 611.7 371.5 600.3 361.3 600.3 358 604.6 353.7 611.7 355.6 615.5 356.8 619.3 358.8 634.6 357 642.2 355.6 657.4 298 657.4 299.9 634.6 298.9 628.6 297.2 623.1 295 619.3 290.4 615.5 280.3 613 277.8 615.5 275.2 620 272.3 630.8 271.7 634.6 272.3 657.4 262.5 657.4 260 655.8 249.9 655.8 247.4 657.4 156.5 657.4 158.7 648.8 160 634.6 159.6 630.8 158.7 625.1 157 622.7 155.3 618.1 153.5 607.9 151.8 604.1 148.6 601.5 146.9 604.4 144.4 611.7 144.8 634.6 143.8 642.2 143 657.4 120.7 657.4 118.2 655.8 108 655.8 105.5 657.4 67.5 657.4 67.5 383.4 69.2 383.4ZM370.7 474.7 371.5 486.2 372.2 474.7 371.5 472.4 370.7 474.7ZM148.2 497.6 148.6 568 149.6 566.1 150.2 543.2 150.2 497.6 148.6 495.9 148.2 497.6Z"/>
<path fill="#0400ac" d="M69.2 383.4 442.4 383.4 442.4 657.4 386.7 657.4 385.5 634.6 382.4 611.7 381.6 588.9 371.5 586.6 361.3 586.7 351.2 587.6 349.8 588.9 348.4 611.7 350 623.1 352.9 634.6 353.2 657.4 303.1 657.4 303.1 634.6 300.5 608.5 280.3 604.1 270.1 611.7 267.6 623.1 266.1 634.6 264.9 638.4 262.5 642.2 260 644.4 249.9 644.4 243.1 647.8 239.8 649.8 235.7 657.4 160 657.4 161.9 634.6 160.4 620.7 158.7 611.7 160.1 588.9 158.7 571.8 156.7 566.1 158.7 554.6 159.4 543.2 159.3 497.6 158.7 496.5 155.3 494.9 151.9 491.9 150.2 489.2 148.6 484.5 145.7 497.6 147.2 520.4 147.1 543.2 146.2 566.1 147.4 577.5 148.6 581.3 150.2 582.8 151.6 585.1 152.6 588.9 150.2 592.3 145.4 596.5 143.5 600.3 141.8 607.2 139 627 135.9 634.6 136.4 642.2 136.7 643.7 138.4 646 139.4 657.4 135 657.4 134.7 653.6 133.4 649.8 118.2 644.4 108 644.4 97.9 648.3 95.1 653.6 93.8 657.4 67.5 657.4 67.5 383.4 69.2 383.4ZM97.2 429.1 97.9 438.2 100.7 432.9 102 429.1 97.9 428.1 97.2 429.1ZM157.9 448.1 154.6 451.9 158.7 453.9 159.4 451.9 158.7 447.3 157.9 448.1ZM370.3 459.5 365.7 474.7 367.1 497.6 371.5 505.2 375.8 497.6 377.3 474.7 374.9 471.5 373.2 467.1 371.5 456.5 370.3 459.5ZM289.8 490 287.5 497.6 290.4 503.3 300.5 502.1 303.1 497.6 300.5 491 290.4 488.4 289.8 490Z"/>
<path fill="#0200ac" d="M69.2 383.4 442.4 383.4 442.4 657.4 389.2 657.4 388.6 634.6 385.8 611.7 385.7 588.9 381.6 583.8 371.5 582 351.2 582.2 346.3 585.1 344 588.9 345.2 623.1 347.8 657.4 308.1 657.4 306.5 634.6 302.6 604.1 300.5 595.4 280.3 594 270.1 602.6 260 609.5 256.6 606.5 253.3 600.3 251.6 593.5 249.9 581.3 247.9 585.1 245.8 592.7 244.4 604.1 243.1 623.1 241.8 630.8 239.8 634.6 236.4 637.6 233 642.2 227.9 652.5 224.6 654.5 219.5 655.6 209.4 655.3 207.3 657.4 162.7 657.4 164 634.6 162.4 611.7 162.1 588.9 159.7 566.1 161 550.8 162.3 543.2 161.9 497.6 158.7 492.4 155.3 489.5 152.9 486.1 151.2 482.3 149.1 474.7 150.2 462.8 152.4 459.5 155.3 458.4 158.7 457.9 160.7 451.9 158.7 438.2 155.3 440 151.9 442.8 148.6 447.3 146.5 451.9 147.3 474.7 144.4 486.1 142.8 497.6 144.4 505.2 145.9 520.4 145.6 543.2 144.9 554.6 143.3 573.7 142.2 581.3 140.1 585.3 135 588.9 136.4 611.7 133.4 619.3 128.3 630 124.9 631.6 121.5 632.4 118.2 632.8 104.7 632.4 87.8 627 85.7 634.6 85.7 657.4 67.5 657.4 67.5 383.4 69.2 383.4ZM95.9 429.1 96.8 448.1 97.9 453.8 104.7 455 108 456.5 109.7 455 111.4 451.9 109.7 448.8 109 444.3 108.4 429.1 108 428.4 106.3 427.9 97.9 426 95.9 429.1ZM368.1 429.1 365.4 451.9 361.3 467.1 360.6 474.7 361 490 361.3 497.6 366.4 507.6 371.5 515.3 374.2 512.8 377.1 509 379.9 503.1 381.6 497.6 381.8 474.7 381.6 473.8 378.5 470.9 376.5 467.9 373.8 459.5 372.6 451.9 372.1 429.1 371.5 428.5 368.1 429.1ZM189.1 444.3 188.3 451.9 188.7 474.7 188.3 497.6 189.1 499.3 199.2 499.3 200.5 497.6 201.8 486.1 203 482.3 206 479 209.4 477.6 212.7 474.7 209.4 470.2 206 467.9 204.3 465.6 202.3 459.5 201.2 451.9 199.2 450.4 192.5 448.6 190.8 447.3 189.1 444.3ZM118.2 467.1 116.8 470.9 116.1 474.7 118.2 479.3 119.2 474.7 118.2 467.1ZM229.6 467.1 227.9 472 226.2 474.7 229.6 475.9 230.6 474.7 229.6 467.1ZM287 474.7 285.3 478.5 283.7 484.5 281.7 497.6 290.4 514.7 300.5 511.3 308.1 497.6 306.2 486.1 304.6 482.3 302.2 479.3 295.5 474.7 290.4 473.7 287 474.7ZM229.6 520.4 233 523.3 235.4 528 237 535.6 237.7 543.2 239.8 550.8 243.1 543.2 241.7 535.6 240.8 520.4 239.8 519.3 229.6 520.4ZM117.8 539.4 116.1 543.2 116.8 547 118.2 550.8 118.2 538.7 117.8 539.4ZM107.7 562.3 106 566.1 108 568 111.4 566.1 109.7 563 108 561.5 107.7 562.3Z"/>
<path fill="#000aff" d="M69.2 383.4 442.4 383.4 442.4 657.4 391.7 657.4 391.7 634.6 389.2 611.7 389.7 588.9 387.9 585.1 385 581.3 381.6 578.8 371.5 577.5 361.3 578 349.5 576.6 346.1 575.7 343.3 573.7 341.7 569.9 341.1 566.1 342.8 556.9 344.5 553 347.8 549.5 351.2 547.8 361.3 549.3 371.5 547 381.6 543.2 381.6 520.4 385 497.6 383.4 490 382.6 474.7 381.6 470.2 379.1 467.1 377.1 463.3 374.1 451.9 374.9 429.1 371.5 426.2 361.3 428.1 360.7 429.1 360.1 444.3 358.4 459.5 356.8 497.6 361.3 510.6 367.4 520.4 366.2 524.2 363.9 528 361.3 530.2 357.1 535.6 351.8 539.4 341.1 539.4 339.4 540.8 337 543.2 336 550.8 334.3 554.6 327.6 559.8 320.8 562.3 310.7 561.5 307.3 559.8 305.6 558.5 303.1 554.6 301.1 547 300.5 543.2 300.5 520.4 310.7 502.1 320.8 504.1 330.9 501.4 341.1 499.6 342.8 497.6 341.1 493.8 337.7 490 336 486.1 333.8 474.7 330.9 470.9 320.8 473.3 290.4 469.8 280.3 472.7 278.6 474.7 276.5 497.6 287.5 520.4 287.5 543.2 285.3 566.1 283.7 571.8 280.3 577.5 276.9 585.6 275.2 588.9 271 592.7 260 600.3 256.6 594.1 254.9 588.9 251.9 566.1 252.8 543.2 247.5 531.8 244.8 520.4 239.8 514.7 229.6 515.6 227.8 516.6 223.8 520.4 227.5 531.8 229.6 543.2 231.9 547 234.7 553.6 237.7 566.1 235.7 588.9 235.7 611.7 233 619.3 229.6 625.4 226.6 638.4 225.1 642.2 222.5 646 219.5 648.6 206 646.5 202.6 644.7 201.5 642.2 200.7 634.6 199.2 628.9 195.8 625.4 192.5 620.3 189.1 611.7 186.2 634.6 187.1 657.4 165.4 657.4 166.2 634.6 166.1 611.7 164 588.9 161.1 566.1 163.1 550.8 165.2 543.2 165.2 520.4 164.4 497.6 158.7 488.2 154.3 482.3 151.4 474.7 153.6 466.8 155.3 464.3 158.7 461.8 160.4 457.3 162.1 451.9 161.6 444.3 160.4 434.8 158.7 429.1 148.6 429.1 147.4 436.7 145.2 444.3 141.8 449.4 138.4 451.9 140.8 463.3 142.2 474.7 139.9 497.6 142.3 505.2 144.5 520.4 144.1 543.2 143 554.6 140.8 569.9 138.4 577.5 133.4 583 128.3 586.2 126.6 588.9 128.3 611.7 127 615.5 123.2 621.9 118.2 625.8 108 625.8 104.2 623.1 101.3 619.7 97.9 611.7 86.1 607.2 82.7 604.1 81 600.3 80.2 596.5 79.3 588.9 77.6 586.2 76.7 588.9 76.4 611.7 77.6 634.6 77.6 657.4 67.5 657.4 67.5 383.4 69.2 383.4ZM97 425.3 94.5 429.1 94.5 451.9 97.9 461.4 101.3 463.7 104.4 467.1 108 474.7 105.1 497.6 108 520.4 108 543.2 97.9 566.1 108 575.6 118.2 569.9 119.4 566.1 119.6 543.2 118.2 520.4 118.2 497.6 123.2 474.7 119.9 451.9 118.2 449.8 114.8 447.2 112.9 444.3 111.4 439.4 110.1 429.1 108 425.8 97.9 424 97 425.3ZM187.4 429.1 185.2 451.9 187.1 474.7 185.2 497.6 189.1 506.3 199.2 506.3 204.3 499.8 209.4 489 216.1 482.1 219.5 479.3 229.6 480.4 233 477 234.7 474.7 236.4 464.4 238.1 460.5 239.8 458.4 241.4 451.9 239.8 449.2 229.6 450.5 227.6 451.9 224.6 462.4 222 467.1 219.5 470.2 214 463.3 211 457.1 209.4 451.9 202.6 448.1 195 440.5 192.5 435.6 190.8 429.1 189.1 425.3 187.4 429.1ZM188.8 539.4 187.4 543.2 189.1 566.1 194.2 571.8 199.2 575.2 201.2 566.1 200.9 543.2 199.2 538.7 189.1 538.7 188.8 539.4ZM314.1 572.9 320.8 570.6 322.5 571.1 327.6 573.7 332.6 578.8 334.3 581.3 335.4 585.1 336 588.9 338.5 596.5 340.1 604.1 341.1 611.7 340.2 623.1 338.5 634.6 336 642.2 333.5 646 330.9 648.3 326.9 657.4 314.7 657.4 311.5 646 306.9 619.3 305.9 611.7 305.4 596.5 304.6 588.9 307.3 579.8 310.7 575.2 314.1 572.9Z"/>
<path fill="#001eff" d="M69.2 383.4 442.4 383.4 442.4 657.4 436.3 657.4 432.3 648.3 429.4 657.4 396.8 657.4 399 634.6 395.7 627 393.4 615.5 392.9 611.7 394.5 588.9 391.7 577.5 388.4 574.4 381.6 572.4 371.5 571.8 361.3 572.6 354.6 571 351.2 570.1 347.4 566.1 351.2 559.2 361.3 556.9 371.5 556.6 381.6 554.6 385.2 550.8 387.9 543.2 387.9 520.4 389.2 497.6 386.7 493.8 385.4 490 383.6 474.7 381.6 465.6 378.3 459.5 376 451.9 378.2 429.1 371.5 423.4 361.3 425.7 359.1 429.1 357.1 444.3 355.8 448.1 353.5 451.9 353.5 474.7 351.2 497.6 347.8 486.2 344.5 479.3 341.1 474.7 338.5 467.1 335 463.3 330.9 461.4 320.8 466.2 310.7 466.3 300.5 464.6 290.4 464.8 280.3 467.5 274.4 474.7 272.7 486.1 270.1 497.6 273.5 501.4 275.8 505.2 279.5 516.6 280.3 520.4 280.3 543.2 276.9 560.8 272 573.7 270.1 577.5 266.8 579.8 263.4 583.2 260 588.9 257 566.1 260 543.2 254.8 535.6 251.8 528 249.9 520.4 244.8 515.3 239.8 509 222.9 510.2 219.5 511.3 218.4 512.8 216.6 520.4 219.5 525.5 222.2 531.8 227.2 550.8 232.7 566.1 230.3 577.5 226.7 588.9 227.9 603.2 227.9 613.7 223.9 630.8 222.5 634.6 219.5 639.8 209.4 636.6 204.3 630.2 202.6 626.2 201 619.3 200 611.7 200.9 591.9 206.3 566.1 205.1 543.2 204.5 539.4 202.1 531.8 199.2 527.2 189.1 527.2 186.7 535.6 183.2 543.2 185.7 553 187.2 566.1 187.9 588.9 187.5 592.7 185.4 604.1 182.8 611.7 179 634.6 173.9 634.6 172.9 630.8 172.9 611.7 168.8 605.2 162.7 566.1 165.4 551.6 168.8 543.2 168.8 520.4 167.6 497.6 157 480.6 154.2 474.7 155.7 470.9 158.7 466.8 163.8 451.9 163.8 429.1 158.7 426.2 148.6 426.7 146 429.1 144.1 436.7 141.8 441.8 133.4 451.9 131.9 467.1 130.8 470.9 128.3 474.7 124.1 451.9 115.3 440.5 111.4 427.8 108 422.5 97.9 421.5 92.8 429.1 91.1 451.9 97.9 470.9 100.8 474.7 97.9 497.6 97.9 543.2 91.6 566.1 92.8 569.9 94.7 573.7 97.9 577.5 108 585.1 118.2 579.4 121.5 579.1 122.2 577.5 122.3 566.1 119.9 517.7 121.3 505.2 122.3 501.4 124.5 497.6 128.3 474.7 130.2 478.5 131.7 483.9 133.4 497.6 138.4 501.8 140.7 509 142.3 516.6 142.8 520.4 142.4 535.6 141.3 550.8 138.4 566.1 136.5 569.9 133.4 574.5 128.3 579.5 123.2 579.8 122.5 581.3 122 611.7 118.2 617 108 617 104.2 611.7 103 606.7 101.3 603.3 99.6 601.5 97.9 600.3 87.8 598.4 84.7 592.7 82.4 585.1 80 581.3 77.6 579.5 74.4 588.9 73.5 611.7 74.7 634.6 73.6 646 71.3 657.4 67.5 657.4 67.5 383.4 69.2 383.4ZM188.3 417.6 183.2 429.1 182.8 432.9 181.3 451.9 183.8 463.3 185 474.7 183.8 486.1 181.3 497.6 185.5 505.2 189.1 515.1 199.2 515.1 202.6 512.8 206 509.4 209.4 504.1 212.2 501.4 213.4 497.6 219.5 490.7 222.9 488.4 229.6 486.1 233 483.9 236.4 480.4 239.8 474.7 242 459.5 243.3 455.7 245.7 451.9 239.8 442.5 234.7 445.4 229.6 446.9 222.5 451.9 219.5 458.8 215.7 451.9 207.7 447.1 202.6 442.4 196.7 432.9 192.5 424.4 189.1 415.7 188.3 417.6ZM349.5 500.9 351.2 497.6 358.8 520.4 354.6 527.3 351.2 530.9 341.1 529.9 334.3 533.6 330.9 536.7 325.9 547.3 320.8 552.7 310.7 550.1 306.9 543.2 306.9 520.4 310.7 513.5 341.1 510 346.1 505.6 349.5 500.9ZM319.1 583.5 320.8 582 323.5 585.1 325.9 588.9 332.5 604.1 334.7 611.7 331.8 623.1 326 638.4 320.8 649.8 314.1 629.5 310.7 621.5 308.9 611.7 310.7 598 314.7 588.9 319.1 583.5ZM170.5 634.6 179 634.6 182 657.4 168.8 657.4 168.8 638.4 170.5 634.6Z"/>
<path fill="#0037f1" d="M69.2 383.4 442.4 383.4 442.4 648.3 436.3 634.6 432.3 633 412 634.6 408.6 633.4 405.2 631.8 401.9 629.3 397.7 619.3 395.9 611.7 399.1 588.9 400.2 571.1 401.9 566.1 402.5 558.5 404 550.8 405.2 548 406.9 545.9 412 543.2 412 520.4 412 531.8 410.3 534.1 401.9 534.1 398.5 529.5 395.8 520.4 394.6 497.6 391.7 496.3 390 494.6 387.5 490 385.6 482.3 384.6 474.7 382.2 463.3 377.9 451.9 379.2 440.5 381.6 429.1 376.3 425.3 371.5 420.5 361.3 423.2 357.5 429.1 355.4 440.5 354 444.3 351.2 448.9 344.5 450.6 330.9 451.9 326.3 455.7 320.8 459 310.7 460.3 300.5 458.2 285.3 461 280.3 462.3 275.8 467.1 270.1 474.7 268.3 497.6 270.1 503.3 273.5 508.5 275.2 512.2 277.7 520.4 276.9 531.8 275.2 543.2 273.3 550.8 270.1 559.5 268.5 557.5 266.8 553.6 265.1 543.2 257.7 531.8 253.3 520.4 251.6 517.9 244.8 510.3 239.8 503.3 229.6 503.6 225.6 501.4 222.4 497.6 226.5 493.8 236.4 489 239.8 486.1 241.4 471.5 243.1 463.1 246.3 455.7 249.9 451.9 239.8 435.8 235 440.5 229.6 443.3 219.5 450.5 209.4 444.3 205.3 440.5 202.6 436.7 199.2 429.1 195.8 423.8 192.9 417.6 189.1 406.2 179 429.1 168.8 429.1 163.8 425.8 158.7 423.4 148.6 424.3 143.5 429.1 140.7 436.7 138.4 440.5 133.4 446.8 128.3 451.9 118.2 439.4 116.5 436.3 113.1 426.9 108 419.3 97.9 418.9 91.1 429.1 89.5 444.3 87.8 451.9 92.4 463.3 96.2 474.7 95.4 497.6 95.4 520.4 94.5 531.8 92.8 543.2 87 562.3 82.7 570.6 81 571.8 77.6 572.8 72.1 588.9 70.5 611.7 71.7 634.6 69.5 646 67.5 652.3 67.5 383.4 69.2 383.4ZM168.8 429.1 175.6 429.1 177.3 432.9 177.3 451.9 180.6 461.4 183 474.7 181.1 486.1 179 493.8 168.8 494.9 163.2 486.1 157 474.7 160.7 467.1 164.5 455.7 165.4 451.9 166.8 436.7 168.8 429.1ZM126.6 501.2 128.3 499.4 133.4 503.1 136.7 506.7 138.4 509 141.1 520.4 140.3 543.2 138.4 554.6 133.4 566.1 128.3 572.8 126.6 570.1 125.3 566.1 123.9 558.5 121.2 520.4 123.2 508.5 124.9 504 126.6 501.2ZM175.6 501.4 179 499.6 180.1 501.4 184.2 509 188.2 520.4 184 534.1 179 543.2 175.6 540.4 173.2 535.6 171.6 528 170.9 520.4 172.2 507.7 173.9 503.3 175.6 501.4ZM342.8 520 347.8 518.4 351.2 516.6 352.5 520.4 351.2 522.2 341.1 520.4 342.8 520ZM211 538.2 219.5 538.2 221.2 543.2 223.2 558.5 225.6 566.1 222 577.5 219.5 588.9 222.9 598.9 224.9 611.7 221.9 623.1 219.5 630 209.4 630.4 206.8 627 204.9 623.1 202.1 611.7 204.3 595 206.3 588.9 209.4 575.2 211 573.3 212.6 569.9 213.4 566.1 211.6 550.8 209.4 543.2 209.4 539.4 211 538.2ZM173.9 546.5 179 543.2 182.3 550.8 185.3 566.1 184.9 588.9 182.3 599.9 179 607.9 173.9 600.9 170.1 592.7 167.1 582 164.4 566.1 165.9 558.5 168.8 549.6 173.9 546.5ZM359.7 565.3 361.3 564.5 371.5 566.1 361.3 567.2 358 566.1 359.7 565.3ZM320.8 598 326.9 611.7 320.8 628.9 318 619.3 314.7 611.7 320.8 598Z"/>
<path fill="#0055d6" d="M69.2 383.4 442.4 383.4 442.4 632.5 432.3 629.2 412 629.6 407.7 627 403.8 623.1 401.9 620.5 400.2 616.1 398.9 611.7 403.1 588.9 405.2 566.1 406.9 559.4 409 554.6 413.7 548.9 417.1 546.1 422.1 543.2 418.8 531.8 417.1 520.4 415.4 517.5 412 513.7 406.9 512 404.1 509 402.8 505.2 401.9 497.6 391.7 493.2 388.4 487.2 386.7 481.1 383.3 462.9 381.6 456.5 379.7 451.9 381.6 440.5 382.5 429.1 381.6 427 376.5 423.1 371.5 417.6 361.3 420.8 356 429.1 354.3 436.7 351.2 444 347.8 446.5 341.1 448.8 330.9 448.6 325.9 449.4 322.5 450.6 320.8 451.9 310.7 454.3 300.5 451.9 292.1 454.5 280.3 457.1 271.8 466.2 270.1 468.4 269.6 470.9 266.5 497.6 268.5 506 272.3 512.8 275.2 520.4 273.5 531.8 270.1 543.2 266.1 535.6 260 528 254.4 516.6 244.8 505.2 239.8 497.6 241.4 487.8 242.3 474.7 243.8 467.1 246.7 459.5 249.4 455.7 253.3 451.9 249.9 444.3 239.8 429.1 237.5 432.9 234 436.7 219.5 446.9 211 441.6 207.7 438.8 204.3 434.1 195.8 417.2 191.6 406.2 189.1 403.7 185.2 406.2 179 420.3 173.9 423.8 168.8 425.3 158.7 420.5 148.6 421.9 144.4 425.3 141 429.1 137.2 436.7 128.3 447.3 118.2 434.3 113.1 422.6 108 416 97.9 416.4 89.5 429.1 86 451.9 87.8 459.5 93.4 474.7 92.8 520.4 91.1 531.8 87.8 543.2 85.7 554.6 82.7 561.5 81 563.5 77.6 566.1 74.3 573.9 70.9 584.6 69.8 588.9 67.5 611.7 67.5 522.2 69.5 520.4 67.5 513.9 67.5 383.4 69.2 383.4ZM168.8 440.5 170.9 444.3 173 451.9 179 465.2 181 474.7 179 484.2 175.6 487.5 168.8 490.5 159.7 474.7 162.9 467.1 165.4 458.9 167.1 451.9 168.8 440.5ZM128.3 504 133.4 508.7 136.5 512.8 138.4 516.1 139.4 520.4 138.4 543.2 133.4 556.9 128.3 566.1 126.1 558.5 124.3 547 122.8 520.4 124.9 510.8 128.3 504ZM179 504.8 183 512.8 185.9 520.4 182.3 530.9 179 537.5 175.6 531.8 172.9 520.4 173.9 514.7 175.6 509.5 179 504.8ZM179 549.9 181.9 558.5 183.5 566.1 181.9 588.9 179 598.4 172 585.1 168.8 580.1 166.1 566.1 168.8 555.9 179 549.9ZM209.4 591.9 214.4 595.8 217.9 600.3 219.5 603.2 221.5 611.7 219.5 618.6 217.8 620.6 214.4 623.1 209.4 625.2 206.3 619.3 204.1 611.7 206.2 600.3 209.4 591.9ZM67.7 615.5 68.7 634.6 67.5 639.6 67.5 611.7 67.7 615.5Z"/>
<path fill="#0d8d73" d="M69.2 383.4 442.4 383.4 442.4 627.3 432.3 625.4 412 624.6 406.4 619.3 401.9 611.7 405.5 592.7 408.6 566.1 410.3 561.6 413.7 555.8 417.1 551.8 422.1 547.8 424.1 543.2 422.1 520.4 420.4 515 418.8 511.9 415.8 509 412 507 410.1 505.2 407.6 501.4 406.1 497.6 403.6 495.8 391.7 490.2 390 487.1 387.4 478.5 384.6 463.3 381.6 451.9 383.4 429.1 381.6 424.9 376.5 420.7 371.5 414.8 361.3 418.4 358 422.9 354.4 429.1 351.2 439 347.8 443 344.5 445.2 341.1 446.6 329.3 445.1 324.2 443.6 322.5 442.5 318 436.7 315.7 429.1 310.7 425 303.4 429.1 298.4 440.5 293.8 446.3 290.4 448.9 280.3 451.9 271.8 460.1 270.1 462 268.8 467.1 266.7 486.1 264.7 497.6 265.2 505.2 266.8 511.9 268.5 513.8 270.1 514.7 272.7 520.4 270.1 531.8 265.1 525 260 520.4 256 512.8 253.3 509.5 249.9 506.7 243.1 497.6 243.6 474.7 244.8 469.3 246.5 464.4 249.1 459.5 256.6 451.9 254.9 446.2 252.4 440.5 243.1 426.7 239.8 423.4 236.4 429.1 233 433.3 219.5 443.3 209.4 436.7 207.7 434.6 204.3 429.1 194.2 406.2 189.1 401.2 181.3 406.2 177.8 413.8 175.6 416.8 172.2 419.7 168.8 421.5 158.7 417.6 148.6 419.6 146.9 420.6 140.1 426.8 133.4 436.7 128.3 442.8 118.2 429.1 114.8 421 112.6 417.6 109.3 413.8 108 412.8 97.9 413.8 87.8 429.1 84.3 451.9 86.7 463.3 90.6 474.7 90.3 520.4 86.8 535.6 86 543.2 84.2 550.8 81 558.1 74.3 566.1 70.9 575.3 67.5 588.9 67.5 526.8 74.6 520.4 67.5 497.6 67.5 383.4 69.2 383.4ZM168.8 451.9 179 474.7 175.6 480.7 172.2 484 168.8 486.1 162.2 474.7 166.2 463.3 168.8 451.9ZM128.3 508.5 133.4 514.3 137.1 520.4 135 543.2 131.7 551.8 128.3 558.5 125.4 543.2 124.3 520.4 126.4 512.8 128.3 508.5ZM179 510 183.6 520.4 179 531.8 177.1 528 174.9 520.4 177.3 513 179 510ZM177.3 557.6 179 556.7 181.6 566.1 179 588.9 176 581.3 173.9 577.5 168.8 571.3 167.8 566.1 168.8 562.3 177.3 557.6ZM209.4 599.6 214.4 605.8 217.5 611.7 214.4 616 209.4 620 206.1 611.7 209.4 599.6Z"/>
<path fill="#149562" d="M69.2 383.4 442.4 383.4 442.4 622.1 412 619.7 408.6 616 405.8 611.7 412 566.1 416.3 558.5 422.1 552.4 426 543.2 422.9 501.4 422.1 497.6 418.8 499.3 412 500.3 408.6 495.6 406.9 494.3 398.5 490.7 391.7 487.1 388.4 477.9 385.8 463.3 383.1 451.9 384.4 429.1 381.6 422.8 376 417.6 371.5 411.9 361.3 415.9 354.6 425.6 349.5 437.3 346.1 441.2 341.1 444.4 330.9 442.1 325.9 439.2 322.5 434.4 320.8 429.1 318.4 425.3 315.7 423.1 310.7 420.9 305.6 425.1 297.8 429.1 294.1 436.7 290.4 441.2 280.3 444.3 278.6 445.8 273.9 451.9 268.5 457.6 267.8 459.5 266.8 474.7 265.3 486.1 262.9 497.6 261.7 507.7 260 511.6 256.6 507 253.3 504.1 249.9 502.1 246.5 497.6 245.5 490 244.8 474.7 247.1 467.1 249.9 461.7 260 451.9 259.4 448.1 257.5 440.5 254.9 434.8 253.3 432.3 249.9 429.1 246.5 422.7 241.4 418.5 239.8 417.6 233 429.1 231.3 431 219.5 439.8 209.4 432.9 206.8 429.1 196.7 406.2 193.6 402.4 189.1 398.6 184 401.3 179 404.9 173.9 413.1 168.8 417.6 158.7 414.8 148.6 417.2 145.2 419.1 141.8 421.7 136.7 426.9 128.3 438.2 121.5 429.1 115.7 417.6 111.4 412.2 108 409.5 97.9 411.3 90.7 421.5 86.5 429.1 82.5 451.9 84.6 463.3 87.8 474.7 87.8 512.8 86.1 513.9 77.6 513.9 72.6 497.6 67.5 492.4 67.5 383.4 69.2 383.4ZM168.8 460.7 175.1 474.7 172.2 478.7 168.8 481.8 164.8 474.7 168.8 460.7ZM128.3 513.1 133.7 520.4 131.7 543.2 128.3 550.8 126.8 543.2 125.8 520.4 128.3 513.1ZM179 515.2 181.3 520.4 179 526.1 176.9 520.4 179 515.2ZM77.6 522.7 81 523.4 82.7 525 83.9 531.8 84.1 543.2 82.7 548.5 79.9 554.6 77.6 557.9 73 562.3 70.9 566.1 67.5 577.5 67.5 531.4 72.6 527.5 77.6 522.7ZM175.6 565.2 179 563.4 179.7 566.1 179 572.6 173.9 566.1 175.6 565.2ZM209.4 607.2 212.4 611.7 209.4 614.8 208.1 611.7 209.4 607.2Z"/>
<path fill="#26bf21" d="M69.2 383.4 442.4 383.4 442.4 616.9 432.3 617.8 412 614.7 409.7 611.7 412 588.9 415.4 566.1 418.8 560.8 423.8 554.4 425.6 550.8 428 543.2 426.5 520.4 427.2 506.7 428.5 497.6 425.5 491.2 422.1 486.1 412 492.3 408.6 490.6 401.9 489.6 391.7 484 388.7 474.7 386.7 461.7 384.5 451.9 385.3 429.1 381.6 420.8 376.5 415.8 371.5 409.1 361 413.8 354.6 422.5 347.8 436.1 344.5 439.9 341.1 442.2 332.6 439.6 327.6 436.2 325.1 432.9 323.3 429.1 320.8 417.6 310.7 416.8 307.3 420.6 303.9 423.2 293.2 429.1 290.4 433.6 280.3 436.7 276.9 438.3 273.5 440.9 270.1 445.4 265.1 438.6 260 429.1 256.6 427 253.3 423.2 251.6 420 249.9 414.8 246.5 413.2 243.1 412.4 239.8 411.9 229.6 429.1 219.5 436.2 209.4 429.1 199.2 406.2 194.2 399.7 189.1 396.1 179 401.5 175.6 405.1 172.2 410.3 168.8 413.8 158.7 411.9 148.6 414.8 143.5 417.4 135 424.2 128.3 433.6 124.9 429.1 119.9 418.8 116.5 413.5 113.1 409.7 108 406.2 97.9 408.8 87.8 423.4 85.2 429.1 80.8 451.9 82.7 464.5 85.1 474.7 84.7 478.5 82.5 490 80.9 493.8 77.6 497.6 72.6 491.2 67.5 487.2 67.5 383.4 69.2 383.4ZM256.6 459.1 260 455.7 261.7 456.6 263.9 459.5 265.3 467.1 265.6 474.7 265.1 479 263.4 488.7 260 502.8 254.9 499.4 249.9 497.6 247.7 490 246.3 478.5 246.1 474.7 249.9 464.9 256.6 459.1ZM168.8 469.5 171.2 474.7 168.8 477.4 167.3 474.7 168.8 469.5ZM128.3 517.7 130.3 520.4 128.3 543.2 127.4 520.4 128.3 517.7ZM74.3 531.3 77.6 528.4 79.3 530.5 81.2 535.6 82.3 543.2 81 547.2 77.6 553.8 74.3 555.4 70.9 558.3 69.2 561 67.5 566.1 67.5 535.9 74.3 531.3Z"/>
<path fill="#3ad50b" d="M69.2 383.4 108 383.4 106 391 103 398.6 100.8 402.4 87.8 420.5 84 429.1 81.9 440.5 79 451.9 80.4 463.3 82.4 474.7 80.7 482.3 77.6 489.4 72.6 484.9 67.5 482 67.5 461.4 70.9 456.6 73.1 451.9 69.9 444.3 67.5 429.1 67.5 383.4 69.2 383.4ZM109.7 383.4 369.4 383.4 370.3 398.6 371.5 406.2 361.3 411.1 359.7 412.8 353.3 421.5 346.1 435.2 341.1 440 332.6 436.6 330.9 435.6 327.6 431.9 325.9 429.1 320.8 406.2 317.4 410 310.7 412.8 305.6 418.9 300.5 422.6 290.4 427.9 280.3 429.1 270.1 429.1 260 424.1 257.3 421.5 254.7 417.6 253 413.8 250.9 406.2 249.9 404.5 239.8 406.2 228.2 425.3 224.6 429.1 219.5 432.6 214.4 429.1 209.4 422.7 202 406.2 199.2 401.7 194.2 396.4 189.1 393.5 182.3 396.3 177.3 399.4 174.3 402.4 168.8 410 158.7 409.1 146.9 413 141.8 415.3 135 419.3 132.3 421.5 130 424.8 128.3 429.1 125.6 421.5 123.2 416.8 119.9 411.9 114.4 406.2 111.4 393.9 108 383.4 109.7 383.4ZM373.2 383.4 442.4 383.4 442.4 497.6 437.3 494.1 434 490.6 427.2 479.3 422.1 474.7 417.1 479.7 410.3 484.9 405.2 486.5 401.9 486.9 391.7 480.9 389.7 474.7 385.9 451.9 386.2 429.1 381.6 418.7 376.5 413.4 371.5 406.2 373.2 383.4ZM421.1 451.9 422.1 474.7 423.3 467.1 423.8 451.9 422.1 449.2 421.1 451.9ZM256.6 462.7 260 459.5 261.7 461.8 263.4 466.6 264.5 474.7 262.5 486.1 260 495.5 254.9 493.2 249.9 490 247.4 474.7 249.9 468.2 256.6 462.7ZM434 501.2 442.4 497.6 442.4 611.7 432.3 614 422.1 611.7 420.4 609.7 418.5 604.1 417.1 588.9 418.8 566.1 424.7 558.5 426.7 554.6 429.9 543.2 428.7 520.4 431.2 505.2 432.3 502.1 434 501.2ZM75.9 535.4 77.6 534.1 79.3 538.2 80.5 543.2 77.6 549.8 70.9 550.5 67.5 551.8 67.5 540.5 75.9 535.4Z"/>
<path fill="#bbe500" d="M69.2 383.4 103 383.4 97.9 394.8 95.9 406.2 87.8 417.6 84 425.3 77.6 450.8 74.3 446.1 72.6 442.2 69.5 429.1 67.5 424.1 67.5 383.4 69.2 383.4ZM118.2 383.4 367.4 383.4 366.7 402.4 366.4 406.2 361.3 408.7 356.4 413.8 351.5 421.5 346.1 432.1 341.1 437.8 332.6 433.6 330.9 432.3 328.4 429.1 323.3 406.2 320.8 392 317.3 398.6 314.5 406.2 310.7 408.7 307.3 413.8 302.2 418.9 290.4 425.1 283.7 424 280.3 422.7 270.1 423.9 260 419.1 256.6 414.3 253.3 405.9 249.9 400.3 239.8 403 236.4 406.2 226.2 422.5 219.5 429.1 214.4 424.3 211 419.6 204.3 405.1 199.2 397.1 194.2 393.2 189.1 391 180.6 394 175.6 396.9 172.2 400.2 168.8 406.2 158.7 406.2 143.5 411.5 138.4 413.8 131.7 415.4 128.3 417.6 124.9 411 121.1 406.2 116.5 383.4 118.2 383.4ZM374.9 383.4 442.4 383.4 442.4 442.8 439.5 451.9 440.7 458.2 442.4 461 442.4 483.3 437.3 476.5 435.1 470.9 431.7 467.1 429.3 459.5 427.2 449.2 425.5 445.9 422.1 442.5 418.6 451.9 417.9 459.5 416.4 467.1 414.9 470.9 412 474.7 410.3 478.5 408.6 480.7 405.2 483 401.9 484.3 391.7 477.8 390.7 474.7 387.4 451.9 387.1 429.1 381.6 416.6 376.5 411 373.2 406.2 374.9 383.4ZM77.6 456.5 79.8 474.7 77.6 481.3 72.6 478.5 67.5 476.8 67.5 470.9 70.9 468.4 74.3 464.4 77.6 456.5ZM256.6 466.3 260 463.3 261.8 467.1 263.4 474.7 260 490.3 254.9 487.1 249.9 482.3 248.6 474.7 249.9 471.5 256.6 466.3ZM440.7 508 442.4 507.1 442.4 603 432.3 606.7 427.2 600.3 423.8 593.6 422.1 588.9 422.1 566.1 425.5 563.2 427.2 560.9 428.9 557.4 430.7 550.8 431.9 543.2 430.9 520.4 432.3 513.6 440.7 508ZM72.6 542.7 77.6 539.8 78.7 543.2 77.6 545.7 71.6 543.2 72.6 542.7Z"/>
<path fill="#e1ef00" d="M69.2 383.4 97.9 383.4 93.8 406.2 86.1 417.3 84 421.5 81.4 429.1 77.6 445.4 74.3 438.8 71.6 429.1 67.5 419.1 67.5 383.4 69.2 383.4ZM121.5 383.4 151.9 383.4 152.4 387.2 152.4 406.2 148.6 407.7 138.4 410 133.4 409.1 130 407.7 128.3 406.2 124.7 398.6 121.7 387.2 121.1 383.4 121.5 383.4ZM160.4 383.4 315.7 383.4 312.4 389.9 310.7 394.8 309.9 406.2 307.6 410 304.6 413.8 300.5 417.6 290.4 422.2 283.7 419.5 280.3 416.4 270.1 418.7 260 414.2 257.6 410 253.3 400.2 249.9 396.1 239.8 399.7 236.9 402.4 233 406.2 224.6 419.9 219.5 425.3 213.2 417.6 205.8 402.4 199.2 392.5 194.2 389.9 189.1 388.5 175.6 392.8 172.2 394.8 168.8 398.6 163.8 394.8 161.2 391 158.7 383.4 160.4 383.4ZM322.5 383.4 365.4 383.4 363.6 398.6 361.3 406.2 357.3 410 352.9 415.6 349.3 421.5 346.1 429.1 341.1 435.7 335.8 432.9 330.9 429.1 325.9 406.2 322.1 383.4 322.5 383.4ZM376.5 383.4 442.4 383.4 442.4 427.8 432.3 429.1 432.3 432.9 430.6 435.8 422.1 435.8 416.1 451.9 414.5 459.5 409.2 474.7 406.4 478.5 401.9 481.6 391.7 474.7 388.8 451.9 388.1 429.1 381.6 414.5 374.9 406.2 376.5 383.4ZM260 467.1 262.3 474.7 260 485.1 254.9 480.9 249.9 474.7 260 467.1ZM439 519.1 442.4 516.6 442.4 531.8 437.3 520.4 439 519.1ZM440.7 550.2 442.4 548.9 442.4 594.2 432.3 594 429.4 588.9 429.4 566.1 431.3 562.3 432.3 558.5 435.6 554.6 440.7 550.2Z"/>
<path fill="#f7eb00" d="M69.2 383.4 95.9 383.4 91.8 406.2 86.1 414.1 82.7 420.5 77.6 439.9 74.7 432.9 70.9 421.5 67.5 414.2 67.5 383.4 69.2 383.4ZM124.9 383.4 143.5 383.4 142 398.6 141 402.4 138.4 406.2 136.4 402.4 133.4 398.6 128.3 394.8 125.7 387.2 124.9 383.4ZM165.4 383.4 306.9 383.4 307.8 406.2 303.9 411.8 300.5 415.2 290.4 419.4 287 417.6 283.7 414.9 280.3 410 270.1 413.5 260 409.2 254.9 396.8 253.3 394.6 249.9 391.9 239.8 396.4 233.4 402.4 229.6 406.2 225.6 413.8 219.5 421.5 213.9 413.8 206 396.9 199.2 388 189.1 385.9 173.9 389 168.8 391 165.8 387.2 163.8 383.4 165.4 383.4ZM325.9 383.4 363.4 383.4 362.2 391 358.4 406.2 354.6 410.1 349.1 417.6 346.1 423.6 344.5 429.1 341.1 433.5 334.3 429.1 330.9 417.6 328.4 406.2 325.2 383.4 325.9 383.4ZM378.2 383.4 442.4 383.4 442.4 424.5 428.9 424.8 423.8 426.2 422.1 429.1 413.5 451.9 406.4 474.7 401.9 479 395.6 474.7 393.4 468.9 391.7 463.3 390.3 451.9 389 429.1 386.1 421.5 382.4 413.8 376.5 406.2 378.2 383.4ZM260 470.9 261.1 474.7 260 479.9 254.9 474.7 260 470.9ZM440.7 565.1 442.4 563.2 442.4 573.7 439.9 566.1 440.7 565.1Z"/>
<path fill="#fcd900" d="M69.2 383.4 93.8 383.4 89.8 406.2 84.4 413.1 82 417.6 79.7 425.3 77.6 434.5 71.8 417.6 67.5 409.2 67.5 383.4 69.2 383.4ZM170.5 383.4 189.1 383.4 179 384.7 168.8 383.4 170.5 383.4ZM200.9 383.4 286.5 383.4 288.7 387.1 290.4 388.4 295.5 386.6 300.5 383.4 302.6 387.2 303.9 391.7 305.8 406.2 300.5 412.7 290.4 416.5 286.7 413.8 283.4 410 281.3 406.2 280.3 401.7 276.9 405.2 270.1 408.3 265.1 406.2 261.3 402.4 258.5 394.8 256.6 391.8 253.3 389 249.9 387.6 239.8 393.2 231.3 401.1 227.9 405 222.9 413.4 219.5 417.6 214.4 410 212.6 406.2 209.4 396.8 207.7 393.8 204.3 388.8 199.2 383.4 200.9 383.4ZM329.3 383.4 361.3 383.4 358 394.8 355.4 406.2 348.8 413.8 346.4 417.6 344.5 422.5 342.8 429.1 341.1 431.3 337.7 429.1 330.9 406.2 328.4 383.4 329.3 383.4ZM379.9 383.4 442.4 383.4 442.4 421.2 434 420.2 430.6 419.3 427.2 416.8 425.5 414.3 423.3 406.2 422.1 383.4 421.4 406.2 419.6 429.1 412 449.2 405 470.9 403.6 474.7 401.9 476.3 399.5 474.7 397.7 470.9 392.6 455.7 391.3 448.1 389.9 429.1 387.1 421.5 383.6 413.8 381.6 410.4 378.2 406.2 379.9 383.4Z"/>
<path fill="#ffaa00" d="M70.9 383.4 91.8 383.4 87.8 406.2 84.4 409.4 81.6 413.8 79.3 420.4 77.6 429.1 74.3 417.4 68.9 406.2 70 383.4 70.9 383.4ZM206 383.4 251.6 383.4 249.9 383.4 244.8 387.1 239.8 389.9 233 396.1 226.9 402.4 219.5 413.8 214.9 406.2 209.4 390.1 204.3 383.4 206 383.4ZM261.7 383.4 282.6 383.4 282 387.6 276.9 397.2 273.5 400.9 270.1 403.3 266.8 400.6 263 394.8 260 383.4 261.7 383.4ZM332.6 383.4 357.4 383.4 352.4 406.2 347.8 410.6 344.5 415.9 342.6 421.5 341.1 429.1 334.3 406.2 331.9 383.4 332.6 383.4ZM381.6 383.4 420.4 383.4 419.5 406.2 417.1 429.1 401.9 472 397.9 463.3 393.4 448.9 391.7 440.5 390.8 429.1 390 426.7 385 414.3 379.9 406.2 381.6 383.4ZM427.2 383.4 442.4 383.4 442.4 418 432.3 415.4 428.9 411.8 427.2 408.7 426.3 406.2 425.5 383.4 427.2 383.4ZM287 394.2 290.4 393.3 300.5 392.2 302.5 398.6 303.8 406.2 300.5 410.2 290.4 413.7 286.5 410 283.8 406.2 284.4 398.6 285.3 395.7 287 394.2Z"/>
<path fill="#ff9e00" d="M72.6 383.4 89.8 383.4 87.8 394.8 83.9 406.2 81 410 79.3 413.8 77.6 420.3 75.6 413.8 72.2 406.2 72.6 383.4ZM211 383.4 244.8 383.4 239.8 386.7 227.9 397.4 224.6 401.5 219.5 410 217.2 406.2 209.4 383.4 211 383.4ZM263.4 383.4 279.1 383.4 275.2 392.4 270.1 398.3 267.2 394.8 265.1 391 262.5 383.4 263.4 383.4ZM337.7 383.4 353.5 383.4 351.2 394.8 349.5 398.6 347.4 406.2 344 410 341.1 417.6 337.7 406.2 336.5 383.4 337.7 383.4ZM383.3 383.4 418.8 383.4 417.6 406.2 414.5 429.1 401.9 465.3 395.1 446.8 391.7 429.1 390 423.8 385.9 413.8 381.6 406.2 382.7 383.4 383.3 383.4ZM430.6 383.4 442.4 383.4 442.4 414.7 432.3 410.8 429.3 406.2 428.9 383.4 430.6 383.4ZM290.4 398.3 295.5 399.3 300.5 401 301.8 406.2 300.5 407.7 290.4 410.8 286.4 406.2 287.5 402.4 290.4 398.3Z"/>
<path fill="#ff9200" d="M75.9 383.4 87.8 383.4 85.1 387.2 83.4 391 81.2 398.6 80 406.2 77.6 411.5 75.6 406.2 75.1 383.4 75.9 383.4ZM212.7 383.4 239.8 383.4 224.6 396.7 221.2 402 219.5 406.2 211.9 383.4 212.7 383.4ZM266.8 383.4 276.1 383.4 273.5 388.7 270.1 393.3 266.8 387.7 265.1 383.4 266.8 383.4ZM385 383.4 417.1 383.4 415.8 406.2 412.8 425.3 408.7 440.5 401.9 458.6 396.5 444.3 393.2 429.1 387.1 413.8 383 406.2 383.7 383.4 385 383.4ZM434 383.4 442.4 383.4 442.4 411.5 437.3 409.3 432.3 406.2 432.3 383.4 434 383.4ZM290.4 403.3 296.5 406.2 290.4 407.9 288.9 406.2 290.4 403.3Z"/>
<path fill="#ff8600" d="M216.1 383.4 235.9 383.4 229.6 388.9 224.6 392 221.8 394.8 219.5 398.6 214.4 383.4 216.1 383.4ZM268.5 383.4 273.1 383.4 270.1 388.4 267.6 383.4 268.5 383.4ZM385 383.4 415.4 383.4 413.9 406.2 410.3 429.1 406.7 440.5 401.9 451.9 397.3 440.5 394.6 429.1 388.3 413.8 384.3 406.2 385 383.4ZM437.3 383.4 442.4 383.4 442.4 408.2 438.6 406.2 436.2 383.4 437.3 383.4Z"/>
<path fill="#ff4c00" d="M217.8 383.4 232 383.4 229.6 385.5 222.9 388.1 219.5 391 217 383.4 217.8 383.4ZM386.7 383.4 413.7 383.4 412 406.2 408.6 429.1 405.2 439.3 401.9 447.3 398.5 438.6 395.1 426.3 385.7 406.2 385.8 383.4 386.7 383.4ZM440.7 383.4 442.4 383.4 442.4 397.1 440.1 383.4 440.7 383.4Z"/>
<path fill="#ff4400" d="M388.4 383.4 412 383.4 410.2 406.2 406.9 429.1 401.9 442.8 395.1 422.1 391.7 416.7 387.1 406.2 386.9 383.4 388.4 383.4Z"/>
<path fill="#ff3c00" d="M388.4 383.4 410 383.4 408.4 406.2 405.2 429.1 401.9 438.2 396.8 421.5 395 417.6 391.7 413.6 388.5 406.2 387.9 383.4 388.4 383.4Z"/>
<path fill="#ff3400" d="M390 383.4 407.9 383.4 406.6 406.2 403.6 429.1 401.9 433.6 397.4 417.6 395.1 413.8 391.7 410.6 389.8 406.2 389 383.4 390 383.4Z"/>
<path fill="#ff0000" d="M391.7 383.4 405.9 383.4 404.8 406.2 401.9 429.1 400.8 421.5 398.5 414 395.6 410 391.7 407.5 391.2 406.2 390 383.4 391.7 383.4Z"/>
<path fill="#ff0000" d="M391.7 383.4 403.9 383.4 403 406.2 401.9 414.8 400.3 410 398.5 407.5 396.8 406.2 393.9 398.6 391.7 394.8 391.1 383.4 391.7 383.4Z"/>
<path fill="none" stroke="#000" stroke-width="1.3" stroke-linejoin="round" d="M151.5 657.4 150.2 650.3 148.6 646 146.5 657.4M292.1 657.4 295.5 634.6 293.8 630 290.4 624.4 280.3 621.9 277.6 627 275.2 634.6 277.4 657.4M382.2 657.4 381.6 649.8 379.9 644.2 376.5 634.6 371.5 623.1 368.9 627 366.4 634.6 361.3 641.1 359.7 647 358 657.4M148.6 609.5 147.6 611.7 148.6 619.3 149.8 611.7 148.6 609.5M135 657.4 134.7 653.6 133.4 649.8 118.2 644.4 108 644.4 97.9 648.3 95.1 653.6 93.8 657.4M160 657.4 161.9 634.6 160.4 620.7 158.7 611.7 160.1 588.9 158.7 571.8 156.7 566.1 158.7 554.6 159.4 543.2 159.3 497.6 158.7 496.5 155.3 494.9 151.9 491.9 150.2 489.2 148.6 484.5 145.7 497.6 147.2 520.4 147.1 543.2 146.2 566.1 147.4 577.5 148.6 581.3 150.2 582.8 151.6 585.1 152.6 588.9 150.2 592.3 145.4 596.5 143.5 600.3 141.8 607.2 139 627 135.9 634.6 136.4 642.2 136.7 643.7 138.4 646 139.4 657.4M303.1 657.4 303.1 634.6 300.5 608.5 280.3 604.1 270.1 611.7 267.6 623.1 266.1 634.6 264.9 638.4 262.5 642.2 260 644.4 249.9 644.4 243.1 647.8 239.8 649.8 235.7 657.4M386.7 657.4 385.5 634.6 382.4 611.7 381.6 588.9 371.5 586.6 361.3 586.7 351.2 587.6 349.8 588.9 348.4 611.7 350 623.1 352.9 634.6 353.2 657.4M97.9 428.1 97.2 429.1 97.9 438.2 100.7 432.9 102 429.1 97.9 428.1M158.7 447.3 154.6 451.9 158.7 453.9 159.4 451.9 158.7 447.3M371.5 456.5 368.1 466 365.7 474.7 367.1 497.6 371.5 505.2 375.8 497.6 377.3 474.7 374.9 471.5 373.2 467.1 371.5 456.5M290.4 488.4 287.5 497.6 290.4 503.3 300.5 502.1 303.1 497.6 300.5 491 290.4 488.4M165.4 657.4 166.2 634.6 166.1 611.7 164 588.9 161.1 566.1 163.1 550.8 165.2 543.2 165.2 520.4 164.4 497.6 158.7 488.2 154.3 482.3 151.4 474.7 153.5 467.1 155.3 464.3 158.7 461.8 162.1 451.9 160.7 436.7 158.7 429.1 148.6 429.1 147.4 436.7 145.2 444.3 141.8 449.4 138.4 451.9 140.8 463.3 142.2 474.7 139.9 497.6 142.3 505.2 144.5 520.4 144.1 543.2 141.8 563.8 140.1 572.8 138.4 577.5 133.4 583 128.3 586.2 126.6 588.9 128.3 611.7 127 615.5 123.2 621.9 118.2 625.8 108 625.8 104.2 623.1 101.3 619.7 97.9 611.7 86.1 607.2 82.7 604.1 81 600.3 80.2 596.5 79.3 588.9 77.6 586.2 76.7 588.9 76.4 611.7 77.6 634.6 77.6 657.4M314.7 657.4 311.5 646 306.9 619.3 305.9 611.7 305.4 596.5 304.6 588.9 306.6 581.3 309 577 310.7 575.2 314.1 572.9 320.8 570.6 327.6 573.7 332.6 578.8 334.3 581.3 339.4 600.3 341.1 611.7 339.8 627 337.7 637.8 334.3 644.9 330.9 648.3 326.9 657.4M391.7 657.4 391.7 634.6 389.2 611.7 389.7 588.9 388.4 585.9 385 581.3 381.6 578.8 371.5 577.5 361.3 578 349.5 576.6 346.1 575.7 344.5 574.8 342.8 572.8 341.1 566.1 342.3 558.5 343.6 554.6 346.1 550.8 349.5 548.5 351.2 547.8 361.3 549.3 371.5 547 381.6 543.2 381.6 520.4 385 497.6 383.4 490 382.6 474.7 381.6 470.2 379.1 467.1 377.1 463.3 374.1 451.9 374.9 429.1 371.5 426.2 361.3 428.1 360.7 429.1 360.1 444.3 358.4 459.5 356.8 497.6 361.3 510.6 367.4 520.4 366.2 524.2 363.9 528 361.3 530.2 357.1 535.6 351.8 539.4 341.1 539.4 339.4 540.8 337 543.2 336 550.8 334.3 554.6 327.6 559.8 320.8 562.3 310.7 561.5 307.3 559.8 305.6 558.5 303.1 554.6 301.1 547 300.5 543.2 300.5 520.4 310.7 502.1 320.8 504.1 330.9 501.4 341.1 499.6 342.8 497.6 341.1 493.8 337.7 490 336 486.1 333.8 474.7 330.9 470.9 320.8 473.3 290.4 469.8 280.3 472.7 278.6 474.7 276.5 497.6 287.5 520.4 287.5 543.2 285.3 566.1 283.7 571.8 280.3 577.5 276.9 585.6 275.2 588.9 271 592.7 260 600.3 256.6 594.1 254.9 588.9 251.9 566.1 252.8 543.2 247.5 531.8 244.8 520.4 239.8 514.7 229.6 515.6 227.8 516.6 223.8 520.4 227.5 531.8 229.6 543.2 231.9 547 234.7 553.6 237.7 566.1 235.7 588.9 235.7 611.7 233 619.3 229.6 625.4 226.6 638.4 225.1 642.2 222.5 646 219.5 648.6 206 646.5 202.6 644.7 201.5 642.2 200.7 634.6 199.2 628.9 195.8 625.4 192.5 620.3 189.1 611.7 186.2 634.6 187.1 657.4M97.9 424 94.5 429.1 94.5 451.9 97.9 461.4 101.3 463.7 104.4 467.1 108 474.7 105.1 497.6 108 520.4 108 543.2 97.9 566.1 108 575.6 118.2 569.9 119.4 566.1 119.6 543.2 118.2 520.4 118.2 497.6 123.2 474.7 119.9 451.9 118.2 449.8 114.8 447.2 112.9 444.3 111.4 439.4 110.1 429.1 108 425.8 97.9 424M189.1 425.3 187.4 429.1 185.2 451.9 187.1 474.7 185.2 497.6 189.1 506.3 199.2 506.3 204.3 499.8 209.4 489 216.1 482.1 219.5 479.3 229.6 480.4 233 477 234.7 474.7 236.4 464.4 238.1 460.5 239.8 458.4 241.4 451.9 239.8 449.2 229.6 450.5 227.6 451.9 224.6 462.4 222 467.1 219.5 470.2 214 463.3 211 457.1 209.4 451.9 202.6 448.1 195 440.5 192.5 435.6 190.8 429.1 189.1 425.3M189.1 538.7 187.4 543.2 189.1 566.1 194.2 571.8 199.2 575.2 201.2 566.1 200.9 543.2 199.2 538.7 189.1 538.7M67.5 526.8 74.6 520.4 67.5 497.6M442.4 627.3 432.3 625.4 412 624.6 406.4 619.3 401.9 611.7 405.5 592.7 408.6 566.1 410.3 561.6 413.7 555.8 417.1 551.8 422.1 547.8 424.1 543.2 422.1 520.4 420.4 515 418.8 511.9 415.8 509 412 507 410.1 505.2 407.6 501.4 406.1 497.6 403.6 495.8 391.7 490.2 390 487.1 387.4 478.5 384.6 463.3 381.6 451.9 383.4 429.1 381.6 424.9 376.5 420.7 371.5 414.8 361.3 418.4 358 422.9 354.4 429.1 351.2 439 347.8 443 344.5 445.2 341.1 446.6 329.3 445.1 324.2 443.6 322.5 442.5 318 436.7 315.7 429.1 310.7 425 303.4 429.1 298.4 440.5 293.8 446.3 290.4 448.9 280.3 451.9 271.8 460.1 270.1 462 268.8 467.1 266.7 486.1 264.7 497.6 265.2 505.2 266.8 511.9 268.5 513.8 270.1 514.7 272.7 520.4 270.1 531.8 265.1 525 260 520.4 256 512.8 253.3 509.5 249.9 506.7 243.1 497.6 243.6 474.7 244.8 469.3 246.5 464.4 249.1 459.5 256.6 451.9 254.9 446.2 252.4 440.5 243.1 426.7 239.8 423.4 236.4 429.1 233 433.3 219.5 443.3 209.4 436.7 207.7 434.6 204.3 429.1 194.2 406.2 189.1 401.2 181.3 406.2 177.8 413.8 175.6 416.8 172.2 419.7 168.8 421.5 158.7 417.6 148.6 419.6 146.9 420.6 140.1 426.8 133.4 436.7 128.3 442.8 118.2 429.1 114.8 421 112.6 417.6 109.3 413.8 108 412.8 97.9 413.8 87.8 429.1 84.3 451.9 86.7 463.3 90.6 474.7 90.3 520.4 86.8 535.6 86 543.2 84.2 550.8 81 558.1 74.3 566.1 70.9 575.3 67.5 588.9M168.8 451.9 179 474.7 175.6 480.7 172.2 484 168.8 486.1 162.2 474.7 166.2 463.3 168.8 451.9M128.3 508.5 133.4 514.3 137.1 520.4 135 543.2 131.7 551.8 128.3 558.5 125.4 543.2 124.3 520.4 126.4 512.8 128.3 508.5M179 510 183.6 520.4 179 531.8 177.1 528 174.9 520.4 177.3 513 179 510M177.3 557.6 179 556.7 181.6 566.1 179 588.9 176 581.3 173.9 577.5 168.8 571.3 167.8 566.1 168.8 562.3 177.3 557.6M209.4 599.6 214.4 605.8 217.5 611.7 214.4 616 209.4 620 206.1 611.7 209.4 599.6M103 383.4 97.9 394.8 95.9 406.2 87.8 417.6 84 425.3 77.6 450.8 74.3 446.1 72.6 442.2 69.5 429.1 67.5 424.1M367.4 383.4 366.4 406.2 361.3 408.7 356.4 413.8 351.5 421.5 346.1 432.1 341.1 437.8 332.6 433.6 330.9 432.3 328.4 429.1 323.3 406.2 320.8 392 317.3 398.6 314.5 406.2 310.7 408.7 307.3 413.8 302.2 418.9 290.4 425.1 283.7 424 280.3 422.7 270.1 423.9 260 419.1 256.6 414.3 253.3 405.9 249.9 400.3 239.8 403 236.4 406.2 226.2 422.5 219.5 429.1 214.4 424.3 211 419.6 204.3 405.1 199.2 397.1 194.2 393.2 189.1 391 180.6 394 175.6 396.9 172.2 400.2 168.8 406.2 158.7 406.2 143.5 411.5 138.4 413.8 131.7 415.4 128.3 417.6 124.9 411 121.1 406.2 116.5 383.4M442.4 442.8 439.5 451.9 440.7 458.2 442.4 461M67.5 470.9 70.9 468.4 74.3 464.4 77.6 456.5 79.8 474.7 77.6 481.3 72.6 478.5 67.5 476.8M442.4 483.3 437.3 476.5 435.1 470.9 431.7 467.1 429.3 459.5 427.2 449.2 425.5 445.9 422.1 442.5 418.6 451.9 417.9 459.5 416.4 467.1 414.9 470.9 412 474.7 410.3 478.5 408.6 480.7 405.2 483 401.9 484.3 391.7 477.8 390.7 474.7 387.4 451.9 387.1 429.1 381.6 416.6 376.5 411 373.2 406.2 374.9 383.4M442.4 603 432.3 606.7 427.2 600.3 423.8 593.6 422.1 588.9 422.1 566.1 425.5 563.2 428.5 558.5 429.8 554.6 431.4 547 431.9 543.2 430.9 520.4 432.3 513.6 442.4 507.1M256.6 466.3 260 463.3 261.8 467.1 263.4 474.7 260 490.3 254.9 487.1 249.9 482.3 248.6 474.7 249.9 471.5 256.6 466.3M72.6 542.7 77.6 539.8 78.7 543.2 77.6 545.7 71.6 543.2 72.6 542.7M91.8 383.4 87.8 406.2 84.4 409.4 81.6 413.8 79.3 420.4 77.6 429.1 74.3 417.4 68.9 406.2 70 383.4M251.6 383.4 249.9 383.4 244.8 387.1 239.8 389.9 233 396.1 226.9 402.4 219.5 413.8 214.9 406.2 209.4 390.1 204.3 383.4M282.6 383.4 282 387.6 276.9 397.2 273.5 400.9 270.1 403.3 266.8 400.6 263.4 395.7 261.6 391 260 383.4M357.4 383.4 352.4 406.2 347.8 410.6 344.5 415.9 342.6 421.5 341.1 429.1 334.3 406.2 331.9 383.4M420.4 383.4 419.5 406.2 417.1 429.1 401.9 472 397.9 463.3 393.4 448.9 391.7 440.5 390.8 429.1 390 426.7 385 414.3 379.9 406.2 381.6 383.4M442.4 418 432.3 415.4 430.5 413.8 427.8 410 426.3 406.2 425.5 383.4M287 394.2 290.4 393.3 300.5 392.2 302.5 398.6 303.8 406.2 300.5 410.2 290.4 413.7 286.5 410 283.8 406.2 284.4 398.6 285.3 395.7 287 394.2M232 383.4 229.6 385.5 222.9 388.1 219.5 391 217 383.4M413.7 383.4 412 406.2 408.6 429.1 405.2 439.3 401.9 447.3 398.5 438.6 395.1 426.3 385.7 406.2 385.8 383.4M442.4 397.1 440.1 383.4M405.9 383.4 404.8 406.2 401.9 429.1 400.8 421.5 398.5 414 395.6 410 391.7 407.5 391.2 406.2 390 383.4"/></g>

<path fill="none" stroke="#111" stroke-width="1" d="M67.5 383.4H442.4V657.4"/>
<path fill="none" stroke="#000" stroke-width="1.2" d="M67.5 383.4V657.4H442.4"/>
<path fill="none" stroke="#000" stroke-width="1" d="M63.0 383.4H67.5M63.0 406.2H67.5M63.0 429.1H67.5M63.0 451.9H67.5M63.0 474.7H67.5M63.0 497.6H67.5M63.0 520.4H67.5M63.0 543.2H67.5M63.0 566.1H67.5M63.0 588.9H67.5M63.0 611.7H67.5M63.0 634.6H67.5M63.0 657.4H67.5M72.6 657.4V661.9M113.0 657.4V661.9M153.5 657.4V661.9M193.9 657.4V661.9M234.4 657.4V661.9M274.8 657.4V661.9M315.2 657.4V661.9M355.7 657.4V661.9M396.1 657.4V661.9M436.6 657.4V661.9"/>
</svg>
<div class="t" style="left:152.5px;top:12.8px">May - average upper 100m (°C)</div>
<div class="t" style="left:96px;top:364px;font-size:14.55px">Sept. average temperature upper 100m  (°C)</div>
<div class="t" style="left:0;top:0;transform-origin:0 0;transform:translate(25.5px,232px) rotate(-90deg);font-size:14.5px">Seward Line Station</div>
<div class="t" style="left:0;top:0;transform-origin:0 0;transform:translate(25.2px,591.8px) rotate(-90deg);font-size:15.1px">Seward Line Station</div>
<div class="yl" style="top:25.5px">1</div>
<div class="yl" style="top:47.4px">2</div>
<div class="yl" style="top:69.2px">3</div>
<div class="yl" style="top:91.1px">4</div>
<div class="yl" style="top:113.0px">5</div>
<div class="yl" style="top:134.8px">6</div>
<div class="yl" style="top:156.7px">7</div>
<div class="yl" style="top:178.6px">8</div>
<div class="yl" style="top:200.4px">9</div>
<div class="yl" style="top:222.3px">10</div>
<div class="yl" style="top:244.2px">11</div>
<div class="yl" style="top:266.0px">12</div>
<div class="yl" style="top:287.9px">13</div>
<div class="xl" style="left:52.6px;top:304.6px">1998</div>
<div class="xl" style="left:93.0px;top:304.6px">2000</div>
<div class="xl" style="left:133.5px;top:304.6px">2002</div>
<div class="xl" style="left:173.9px;top:304.6px">2004</div>
<div class="xl" style="left:214.4px;top:304.6px">2006</div>
<div class="xl" style="left:254.8px;top:304.6px">2008</div>
<div class="xl" style="left:295.2px;top:304.6px">2010</div>
<div class="xl" style="left:335.7px;top:304.6px">2012</div>
<div class="xl" style="left:376.1px;top:304.6px">2014</div>
<div class="xl" style="left:416.6px;top:304.6px">2016</div>
<div class="yl" style="top:377.5px">1</div>
<div class="yl" style="top:400.3px">2</div>
<div class="yl" style="top:423.2px">3</div>
<div class="yl" style="top:446.0px">4</div>
<div class="yl" style="top:468.8px">5</div>
<div class="yl" style="top:491.7px">6</div>
<div class="yl" style="top:514.5px">7</div>
<div class="yl" style="top:537.3px">8</div>
<div class="yl" style="top:560.2px">9</div>
<div class="yl" style="top:583.0px">10</div>
<div class="yl" style="top:605.8px">11</div>
<div class="yl" style="top:628.7px">12</div>
<div class="yl" style="top:651.5px">13</div>
<div class="xl" style="left:52.6px;top:668.2px">1998</div>
<div class="xl" style="left:93.0px;top:668.2px">2000</div>
<div class="xl" style="left:133.5px;top:668.2px">2002</div>
<div class="xl" style="left:173.9px;top:668.2px">2004</div>
<div class="xl" style="left:214.4px;top:668.2px">2006</div>
<div class="xl" style="left:254.8px;top:668.2px">2008</div>
<div class="xl" style="left:295.2px;top:668.2px">2010</div>
<div class="xl" style="left:335.7px;top:668.2px">2012</div>
<div class="xl" style="left:376.1px;top:668.2px">2014</div>
<div class="xl" style="left:416.6px;top:668.2px">2016</div>
<div class="sw" style="left:50.6px;top:328.4px;background:#5a0aa0"></div>
<div class="ll" style="left:79.9px;top:327.4px">4.0</div>
<div class="sw" style="left:102.2px;top:328.4px;background:#0000a8"></div>
<div class="ll" style="left:131.5px;top:327.4px">4.5</div>
<div class="sw" style="left:153.8px;top:328.4px;background:#0000b0"></div>
<div class="ll" style="left:183.1px;top:327.4px">5.0</div>
<div class="sw" style="left:205.4px;top:328.4px;background:#0070b0"></div>
<div class="ll" style="left:234.7px;top:327.4px">5.5</div>
<div class="sw" style="left:257.0px;top:328.4px;background:#40d000"></div>
<div class="ll" style="left:286.3px;top:327.4px">6.0</div>
<div class="sw" style="left:308.6px;top:328.4px;background:#ffd200"></div>
<div class="ll" style="left:337.9px;top:327.4px">6.5</div>
<div class="sw" style="left:360.2px;top:328.4px;background:#ff8c00"></div>
<div class="ll" style="left:389.5px;top:327.4px">7.0</div>
<div class="sw" style="left:411.8px;top:328.4px;background:#ff2800"></div>
<div class="ll" style="left:441.1px;top:327.4px">7.5</div>
<div class="sw" style="left:35.7px;top:693.0px;background:#5a0aa0"></div>
<div class="ll" style="left:65.0px;top:692.0px">7</div>
<div class="sw" style="left:77.6px;top:693.0px;background:#0000a8"></div>
<div class="ll" style="left:106.9px;top:692.0px">7.5</div>
<div class="sw" style="left:128.5px;top:693.0px;background:#0000a0"></div>
<div class="ll" style="left:157.8px;top:692.0px">8</div>
<div class="sw" style="left:171.6px;top:693.0px;background:#0030b0"></div>
<div class="ll" style="left:200.9px;top:692.0px">8.5</div>
<div class="sw" style="left:222.4px;top:693.0px;background:#00c000"></div>
<div class="ll" style="left:251.7px;top:692.0px">9</div>
<div class="sw" style="left:264.4px;top:693.0px;background:#b4e000"></div>
<div class="ll" style="left:293.7px;top:692.0px">9.5</div>
<div class="sw" style="left:314.2px;top:693.0px;background:#ffd800"></div>
<div class="ll" style="left:343.5px;top:692.0px">10</div>
<div class="sw" style="left:359.3px;top:693.0px;background:#ff6400"></div>
<div class="ll" style="left:388.6px;top:692.0px">10.5</div>
<div class="sw" style="left:416.0px;top:693.0px;background:#ff0a00"></div>
<div class="ll" style="left:445.3px;top:692.0px">11</div>
</body></html>
